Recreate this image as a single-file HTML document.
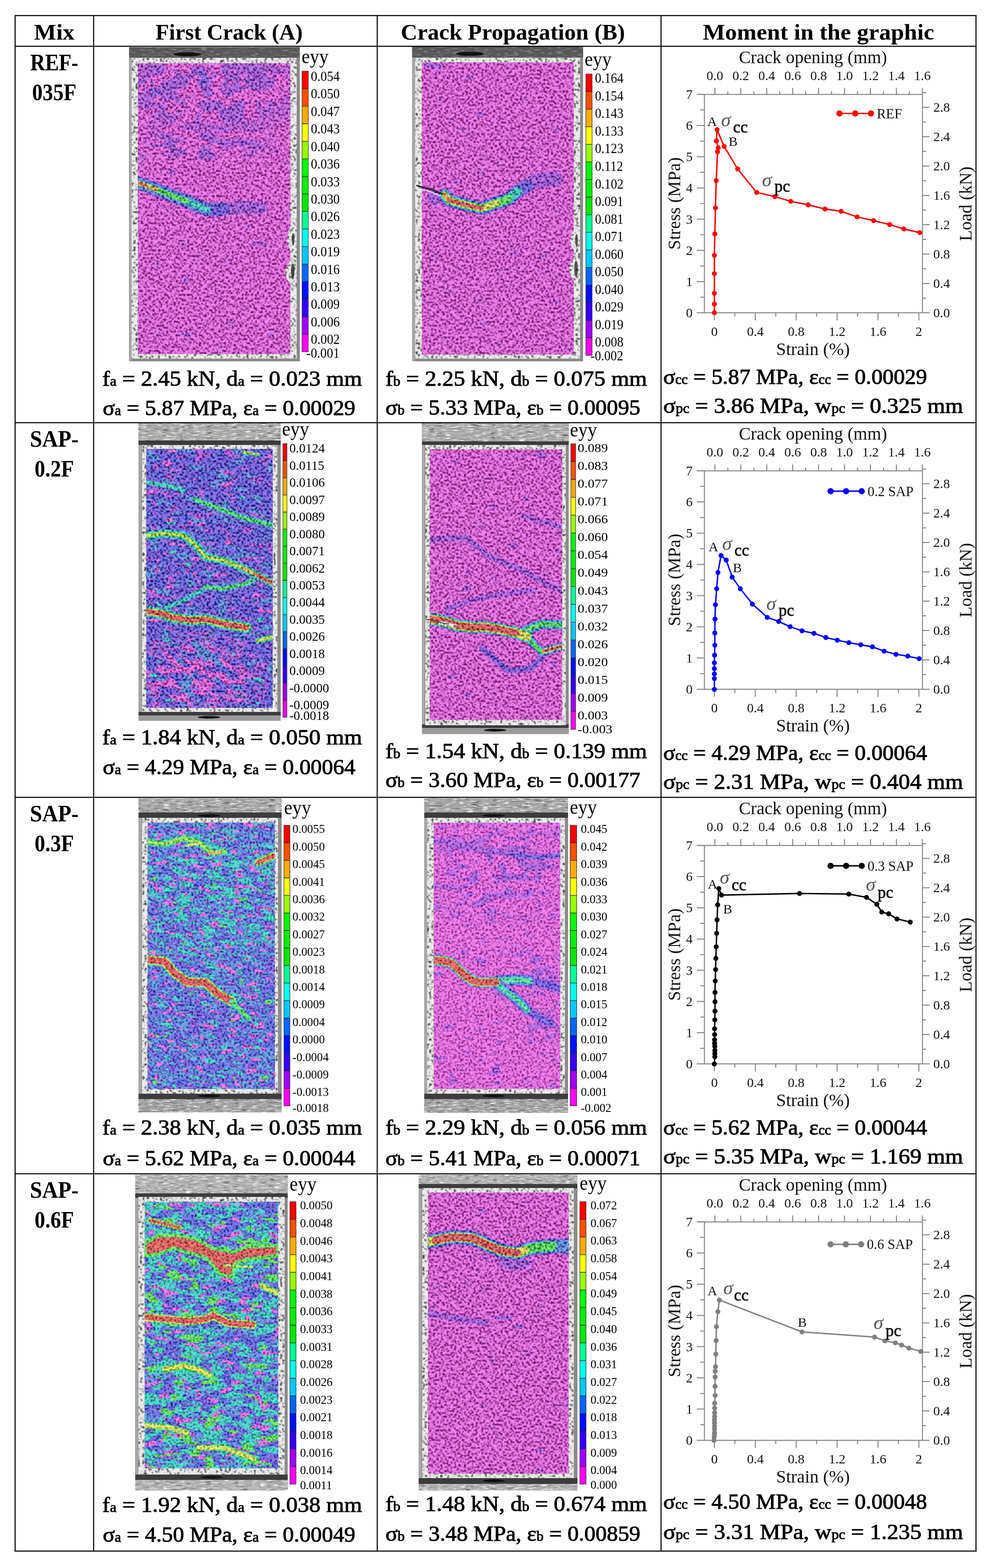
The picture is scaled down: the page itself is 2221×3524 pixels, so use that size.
<!DOCTYPE html>
<html><head><meta charset="utf-8"><title>DIC crack table</title>
<style>
html,body{margin:0;padding:0;background:#fff;}
body{width:2221px;height:3524px;overflow:hidden;}
svg{display:block;}
</style></head>
<body>
<svg xmlns="http://www.w3.org/2000/svg" width="2221" height="3524" viewBox="0 0 2221 3524" font-family="'Liberation Serif', 'Times New Roman', serif">
<defs>
<filter id="spk" x="0" y="0" width="1" height="1" color-interpolation-filters="sRGB">
<feTurbulence type="fractalNoise" baseFrequency="0.23" numOctaves="2" seed="7" result="n"/>
<feColorMatrix in="n" type="matrix" values="0 0 0 0 0  0 0 0 0 0  0 0 0 0 0  -6.0 0 0 0 3.090" result="m0"/>
<feGaussianBlur in="m0" stdDeviation="0.85" result="m"/>
<feComponentTransfer in="SourceGraphic" result="dk"><feFuncR type="linear" slope="1" intercept="-0.62"/><feFuncG type="linear" slope="1" intercept="-0.62"/><feFuncB type="linear" slope="1" intercept="-0.62"/></feComponentTransfer>
<feComposite in="dk" in2="m" operator="in" result="spots"/>
<feComposite in="spots" in2="SourceGraphic" operator="atop"/>
</filter>
<filter id="spk2" x="0" y="0" width="1" height="1" color-interpolation-filters="sRGB">
<feTurbulence type="fractalNoise" baseFrequency="0.26" numOctaves="2" seed="5" result="n"/>
<feColorMatrix in="n" type="matrix" values="0 0 0 0 0  0 0 0 0 0  0 0 0 0 0  -6.0 0 0 0 2.940" result="m0"/>
<feGaussianBlur in="m0" stdDeviation="1.0" result="m"/>
<feComponentTransfer in="SourceGraphic" result="dk"><feFuncR type="linear" slope="1" intercept="-0.58"/><feFuncG type="linear" slope="1" intercept="-0.58"/><feFuncB type="linear" slope="1" intercept="-0.58"/></feComponentTransfer>
<feComposite in="dk" in2="m" operator="in" result="spots"/>
<feComposite in="spots" in2="SourceGraphic" operator="atop"/>
</filter>
<filter id="spkw" x="0" y="0" width="1" height="1" color-interpolation-filters="sRGB">
<feTurbulence type="fractalNoise" baseFrequency="0.2" numOctaves="2" seed="3" result="n"/>
<feColorMatrix in="n" type="matrix" values="0 0 0 0 0  0 0 0 0 0  0 0 0 0 0  -8.0 0 0 0 3.440" result="m0"/>
<feGaussianBlur in="m0" stdDeviation="0.8" result="m"/>
<feComponentTransfer in="SourceGraphic" result="dk"><feFuncR type="linear" slope="1" intercept="-0.8"/><feFuncG type="linear" slope="1" intercept="-0.8"/><feFuncB type="linear" slope="1" intercept="-0.8"/></feComponentTransfer>
<feComposite in="dk" in2="m" operator="in" result="spots"/>
<feComposite in="spots" in2="SourceGraphic" operator="atop"/>
</filter>
<filter id="metal" x="0" y="0" width="1" height="1" color-interpolation-filters="sRGB">
<feTurbulence type="fractalNoise" baseFrequency="0.06 0.35" numOctaves="3" seed="9"/>
<feColorMatrix type="matrix" values="0 0 0 0 1  0 0 0 0 1  0 0 0 0 1  3.2 0 0 0 -1.65"/>
</filter>
<filter id="metald" x="0" y="0" width="1" height="1" color-interpolation-filters="sRGB">
<feTurbulence type="fractalNoise" baseFrequency="0.05 0.3" numOctaves="3" seed="19"/>
<feColorMatrix type="matrix" values="0 0 0 0 0  0 0 0 0 0  0 0 0 0 0  -2.6 0 0 0 1.1"/>
</filter>
<filter id="soft" color-interpolation-filters="sRGB"><feGaussianBlur stdDeviation="1.6"/></filter>
<filter id="soft2" color-interpolation-filters="sRGB"><feGaussianBlur stdDeviation="3"/></filter>
</defs>
<g id="dic"><rect x="290" y="106" width="384" height="706" fill="#8a8a8a"/><rect x="291" y="106" width="5" height="706" fill="#a8a8a8"/><rect x="290" y="106" width="384" height="24" fill="#565656"/><rect x="290" y="106" width="384" height="24" fill="#000" filter="url(#metal)" opacity="0.35"/><ellipse cx="421" cy="122" rx="31" ry="4.5" fill="#111"/><g filter="url(#spkw)"><rect x="296" y="130" width="371" height="676" fill="#ececec"/></g><clipPath id="cp310_142"><rect x="310" y="142" width="343" height="654"/></clipPath><g clip-path="url(#cp310_142)"><g filter="url(#spk)"><rect x="310" y="142" width="343" height="654" fill="#f887f4"/><filter id="pt1" filterUnits="userSpaceOnUse" x="311" y="142" width="342" height="158" color-interpolation-filters="sRGB"><feTurbulence type="fractalNoise" baseFrequency="0.02 0.03" numOctaves="3" seed="11"/><feColorMatrix type="matrix" values="0 0 0 0 0.784  0 0 0 0 0.490  0 0 0 0 0.961  30 0 0 0 -14.100"/></filter><radialGradient id="mk1g"><stop offset="0.55" stop-color="#fff"/><stop offset="1" stop-color="#000"/></radialGradient><mask id="mk1" maskUnits="userSpaceOnUse" x="311" y="142" width="342" height="158"><ellipse cx="470" cy="200" rx="260" ry="120" fill="url(#mk1g)"/></mask><g mask="url(#mk1)"><rect x="311" y="142" width="342" height="158" fill="#000" filter="url(#pt1)"/></g><filter id="pt2" filterUnits="userSpaceOnUse" x="311" y="142" width="189" height="88" color-interpolation-filters="sRGB"><feTurbulence type="fractalNoise" baseFrequency="0.025 0.04" numOctaves="3" seed="4"/><feColorMatrix type="matrix" values="0 0 0 0 0.584  0 0 0 0 0.490  0 0 0 0 0.961  30 0 0 0 -19.800"/></filter><radialGradient id="mk2g"><stop offset="0.55" stop-color="#fff"/><stop offset="1" stop-color="#000"/></radialGradient><mask id="mk2" maskUnits="userSpaceOnUse" x="311" y="142" width="189" height="88"><ellipse cx="390" cy="175" rx="110" ry="50" fill="url(#mk2g)"/></mask><g mask="url(#mk2)"><rect x="311" y="142" width="189" height="88" fill="#000" filter="url(#pt2)"/></g><filter id="pt3" filterUnits="userSpaceOnUse" x="320" y="260" width="300" height="100" color-interpolation-filters="sRGB"><feTurbulence type="fractalNoise" baseFrequency="0.02 0.045" numOctaves="3" seed="21"/><feColorMatrix type="matrix" values="0 0 0 0 0.784  0 0 0 0 0.490  0 0 0 0 0.961  30 0 0 0 -15.000"/></filter><radialGradient id="mk3g"><stop offset="0.55" stop-color="#fff"/><stop offset="1" stop-color="#000"/></radialGradient><mask id="mk3" maskUnits="userSpaceOnUse" x="320" y="260" width="300" height="100"><ellipse cx="470" cy="318" rx="170" ry="55" fill="url(#mk3g)"/></mask><g mask="url(#mk3)"><rect x="320" y="260" width="300" height="100" fill="#000" filter="url(#pt3)"/></g><filter id="pt4" filterUnits="userSpaceOnUse" x="311" y="142" width="342" height="654" color-interpolation-filters="sRGB"><feTurbulence type="fractalNoise" baseFrequency="0.03 0.05" numOctaves="3" seed="31"/><feColorMatrix type="matrix" values="0 0 0 0 0.784  0 0 0 0 0.490  0 0 0 0 0.961  30 0 0 0 -22.200"/></filter><rect x="311" y="142" width="342" height="654" fill="#000" filter="url(#pt4)"/><path d="M305.0 410.0 L330.0 418.0 L352.0 426.0 L390.0 441.0 L420.0 452.0 L442.0 462.0 L466.0 471.0 L500.0 470.0 L540.0 466.0 L585.0 467.0" stroke="#c87df5" stroke-width="30" fill="none" stroke-linecap="round" stroke-linejoin="round" opacity="1.0"/><path d="M305.0 410.0 L330.0 418.0 L352.0 426.0 L390.0 441.0 L420.0 452.0 L442.0 462.0 L466.0 471.0 L500.0 470.0" stroke="#957df5" stroke-width="30" fill="none" stroke-linecap="round" stroke-linejoin="round" opacity="1.0"/><path d="M305.0 410.0 L330.0 418.0 L352.0 426.0 L390.0 441.0 L420.0 452.0 L442.0 462.0 L466.0 471.0" stroke="#7dadf5" stroke-width="22" fill="none" stroke-linecap="round" stroke-linejoin="round" opacity="1.0"/><path d="M305.0 410.0 L330.0 418.0 L352.0 426.0 L390.0 441.0 L420.0 452.0 L442.0 462.0 L466.0 471.0" stroke="#5ae6dc" stroke-width="12" fill="none" stroke-linecap="round" stroke-linejoin="round" opacity="1.0"/><path d="M305.0 410.0 L330.0 418.0 L352.0 426.0 L390.0 441.0 L420.0 452.0" stroke="#7df57d" stroke-width="10" fill="none" stroke-linecap="round" stroke-linejoin="round" opacity="1.0"/><path d="M305.0 410.0 L330.0 418.0 L352.0 426.0" stroke="#f5f57d" stroke-width="10" fill="none" stroke-linecap="round" stroke-linejoin="round" opacity="1.0"/><path d="M305.0 410.0 L330.0 418.0 L352.0 426.0" stroke="#f5cd7d" stroke-width="8" fill="none" stroke-linecap="round" stroke-linejoin="round" opacity="1.0"/><path d="M305.0 410.0 L330.0 418.0" stroke="#f57d7d" stroke-width="5" fill="none" stroke-linecap="round" stroke-linejoin="round" opacity="1.0"/></g></g><g filter="url(#spkw)"><path d="M653.0 510.0 L648.0 520.0 L645.0 540.0 L650.0 556.0 L653.0 562.0 Z" fill="#ececec"/></g><ellipse cx="659" cy="538" rx="3" ry="14" fill="#2a2a2a" opacity="0.8"/><g filter="url(#spkw)"><path d="M653.0 585.0 L646.0 596.0 L641.0 612.0 L645.0 628.0 L653.0 636.0 Z" fill="#ececec"/></g><ellipse cx="658" cy="610" rx="4" ry="18" fill="#2a2a2a" opacity="0.8"/><rect x="679" y="160.00" width="14" height="39.71" fill="#ff0000"/><rect x="679" y="199.41" width="14" height="39.71" fill="#ff5000"/><rect x="679" y="238.82" width="14" height="39.71" fill="#ffaa00"/><rect x="679" y="278.24" width="14" height="39.71" fill="#ffff00"/><rect x="679" y="317.65" width="14" height="39.71" fill="#99ff00"/><rect x="679" y="357.06" width="14" height="39.71" fill="#00ff00"/><rect x="679" y="396.48" width="14" height="39.71" fill="#00f000"/><rect x="679" y="435.89" width="14" height="39.71" fill="#00e800"/><rect x="679" y="475.30" width="14" height="39.71" fill="#00ff99"/><rect x="679" y="514.71" width="14" height="39.71" fill="#00ffee"/><rect x="679" y="554.12" width="14" height="39.71" fill="#00c8ff"/><rect x="679" y="593.54" width="14" height="39.71" fill="#0066ff"/><rect x="679" y="632.95" width="14" height="39.71" fill="#0010ff"/><rect x="679" y="672.36" width="14" height="39.71" fill="#3300ff"/><rect x="679" y="711.77" width="14" height="39.71" fill="#a000ff"/><rect x="679" y="751.19" width="14" height="39.71" fill="#ff00ff"/><path d="M679 199.41 H693 M679 238.82 H693 M679 278.24 H693 M679 317.65 H693 M679 357.06 H693 M679 396.48 H693 M679 435.89 H693 M679 475.30 H693 M679 514.71 H693 M679 554.12 H693 M679 593.54 H693 M679 632.95 H693 M679 672.36 H693 M679 711.77 H693 M679 751.19 H693" stroke="#222" stroke-width="1.3"/><rect x="679" y="160" width="14" height="630.6" fill="none" stroke="#333" stroke-width="1.2"/><text transform="translate(698.8 182.0) scale(1 1.085)" font-size="28.9">0.054</text><text transform="translate(698.8 221.4) scale(1 1.085)" font-size="28.9">0.050</text><text transform="translate(698.8 260.8) scale(1 1.085)" font-size="28.9">0.047</text><text transform="translate(698.8 300.2) scale(1 1.085)" font-size="28.9">0.043</text><text transform="translate(698.8 339.6) scale(1 1.085)" font-size="28.9">0.040</text><text transform="translate(698.8 379.1) scale(1 1.085)" font-size="28.9">0.036</text><text transform="translate(698.8 418.5) scale(1 1.085)" font-size="28.9">0.033</text><text transform="translate(698.8 457.9) scale(1 1.085)" font-size="28.9">0.030</text><text transform="translate(698.8 497.3) scale(1 1.085)" font-size="28.9">0.026</text><text transform="translate(698.8 536.7) scale(1 1.085)" font-size="28.9">0.023</text><text transform="translate(698.8 576.1) scale(1 1.085)" font-size="28.9">0.019</text><text transform="translate(698.8 615.5) scale(1 1.085)" font-size="28.9">0.016</text><text transform="translate(698.8 655.0) scale(1 1.085)" font-size="28.9">0.013</text><text transform="translate(698.8 694.4) scale(1 1.085)" font-size="28.9">0.009</text><text transform="translate(698.8 733.8) scale(1 1.085)" font-size="28.9">0.006</text><text transform="translate(698.8 773.2) scale(1 1.085)" font-size="28.9">0.002</text><text transform="translate(688.8 804.0) scale(1 1.085)" font-size="28.9">-0.001</text><text transform="translate(677.9 142) scale(1 1.08)" font-size="42">eyy</text>
<rect x="926.5" y="105" width="384.20000000000005" height="707" fill="#8a8a8a"/><rect x="927.5" y="105" width="5" height="707" fill="#a8a8a8"/><rect x="926.5" y="105" width="384.20000000000005" height="24" fill="#565656"/><rect x="926.5" y="105" width="384.20000000000005" height="24" fill="#000" filter="url(#metal)" opacity="0.35"/><ellipse cx="1056" cy="121" rx="31" ry="4.5" fill="#111"/><g filter="url(#spkw)"><rect x="933" y="130" width="371" height="676" fill="#ececec"/></g><clipPath id="cp948_140"><rect x="948" y="140" width="342" height="657"/></clipPath><g clip-path="url(#cp948_140)"><g filter="url(#spk)"><rect x="948" y="140" width="342" height="657" fill="#f887f4"/><path d="M958.0 146.0 L990.0 150.0" stroke="#c87df5" stroke-width="10" fill="none" stroke-linecap="round" stroke-linejoin="round" opacity="1.0"/><filter id="pt5" filterUnits="userSpaceOnUse" x="948" y="140" width="342" height="657" color-interpolation-filters="sRGB"><feTurbulence type="fractalNoise" baseFrequency="0.03 0.06" numOctaves="3" seed="71"/><feColorMatrix type="matrix" values="0 0 0 0 0.784  0 0 0 0 0.490  0 0 0 0 0.961  30 0 0 0 -22.800"/></filter><rect x="948" y="140" width="342" height="657" fill="#000" filter="url(#pt5)"/><path d="M1192.0 398.0 L1215.0 390.0 L1245.0 393.0 L1265.0 410.0 L1240.0 420.0 L1200.0 424.0 Z" fill="#c87df5"/><path d="M975.0 445.0 L1000.0 438.0 L1008.2 449.8 L1045.9 460.3 L1083.6 468.7 L1117.1 456.1 L1142.3 447.7 L1163.2 431.0 L1184.1 418.4 L1205.1 405.8 L1230.0 402.0 L1250.0 404.0" stroke="#c87df5" stroke-width="32" fill="none" stroke-linecap="round" stroke-linejoin="round" opacity="1.0"/><path d="M1000.0 438.0 L1008.2 449.8 L1045.9 460.3 L1083.6 468.7 L1117.1 456.1 L1142.3 447.7 L1163.2 431.0 L1184.1 418.4" stroke="#957df5" stroke-width="28" fill="none" stroke-linecap="round" stroke-linejoin="round" opacity="1.0"/><path d="M1000.0 438.0 L1008.2 449.8 L1045.9 460.3 L1083.6 468.7 L1117.1 456.1 L1142.3 447.7 L1163.2 431.0" stroke="#7dadf5" stroke-width="24" fill="none" stroke-linecap="round" stroke-linejoin="round" opacity="1.0"/><path d="M1000.0 438.0 L1008.2 449.8 L1045.9 460.3 L1083.6 468.7 L1117.1 456.1 L1142.3 447.7 L1163.2 431.0" stroke="#5ae6dc" stroke-width="19" fill="none" stroke-linecap="round" stroke-linejoin="round" opacity="1.0"/><path d="M1000.0 438.0 L1008.2 449.8 L1045.9 460.3 L1083.6 468.7 L1117.1 456.1 L1142.3 447.7" stroke="#7df57d" stroke-width="16" fill="none" stroke-linecap="round" stroke-linejoin="round" opacity="1.0"/><path d="M1000.0 438.0 L1008.2 449.8 L1045.9 460.3 L1083.6 468.7 L1117.1 456.1" stroke="#f5f57d" stroke-width="13" fill="none" stroke-linecap="round" stroke-linejoin="round" opacity="1.0"/><path d="M1000.0 438.0 L1008.2 449.8 L1045.9 460.3 L1083.6 468.7" stroke="#f5cd7d" stroke-width="11" fill="none" stroke-linecap="round" stroke-linejoin="round" opacity="1.0"/><path d="M1008.2 449.8 L1045.9 460.3 L1083.6 468.7" stroke="#f57d7d" stroke-width="8" fill="none" stroke-linecap="round" stroke-linejoin="round" opacity="1.0"/></g></g><path d="M937.0 417.0 L955.0 422.0 L975.0 428.0 L995.0 436.0" stroke="#222" stroke-width="3" fill="none" stroke-linecap="round" stroke-linejoin="round" opacity="1.0"/><path d="M945.0 425.0 L965.0 430.0 L990.0 440.0" stroke="#eee" stroke-width="2" fill="none" stroke-linecap="round" stroke-linejoin="round" opacity="1.0"/><g filter="url(#spkw)"><path d="M1290.0 515.0 L1285.0 525.0 L1282.0 542.0 L1286.0 556.0 L1290.0 562.0 Z" fill="#ececec"/></g><ellipse cx="1296" cy="540" rx="3" ry="14" fill="#2a2a2a" opacity="0.8"/><g filter="url(#spkw)"><path d="M1290.0 580.0 L1283.0 592.0 L1279.0 606.0 L1283.0 620.0 L1290.0 628.0 Z" fill="#ececec"/></g><ellipse cx="1295" cy="604" rx="4" ry="18" fill="#2a2a2a" opacity="0.8"/><rect x="1317" y="166.30" width="14" height="39.83" fill="#ff0000"/><rect x="1317" y="205.83" width="14" height="39.83" fill="#ff5000"/><rect x="1317" y="245.36" width="14" height="39.83" fill="#ffaa00"/><rect x="1317" y="284.89" width="14" height="39.83" fill="#ffff00"/><rect x="1317" y="324.43" width="14" height="39.83" fill="#99ff00"/><rect x="1317" y="363.96" width="14" height="39.83" fill="#00ff00"/><rect x="1317" y="403.49" width="14" height="39.83" fill="#00f000"/><rect x="1317" y="443.02" width="14" height="39.83" fill="#00e800"/><rect x="1317" y="482.55" width="14" height="39.83" fill="#00ff99"/><rect x="1317" y="522.08" width="14" height="39.83" fill="#00ffee"/><rect x="1317" y="561.61" width="14" height="39.83" fill="#00c8ff"/><rect x="1317" y="601.14" width="14" height="39.83" fill="#0066ff"/><rect x="1317" y="640.67" width="14" height="39.83" fill="#0010ff"/><rect x="1317" y="680.21" width="14" height="39.83" fill="#3300ff"/><rect x="1317" y="719.74" width="14" height="39.83" fill="#a000ff"/><rect x="1317" y="759.27" width="14" height="39.83" fill="#ff00ff"/><path d="M1317 205.83 H1331 M1317 245.36 H1331 M1317 284.89 H1331 M1317 324.43 H1331 M1317 363.96 H1331 M1317 403.49 H1331 M1317 443.02 H1331 M1317 482.55 H1331 M1317 522.08 H1331 M1317 561.61 H1331 M1317 601.14 H1331 M1317 640.67 H1331 M1317 680.21 H1331 M1317 719.74 H1331 M1317 759.27 H1331" stroke="#222" stroke-width="1.3"/><rect x="1317" y="166.3" width="14" height="632.5" fill="none" stroke="#333" stroke-width="1.2"/><text transform="translate(1337.5 186.3) scale(1 1.1)" font-size="28.5">0.164</text><text transform="translate(1337.5 225.8) scale(1 1.1)" font-size="28.5">0.154</text><text transform="translate(1337.5 265.4) scale(1 1.1)" font-size="28.5">0.143</text><text transform="translate(1337.5 304.9) scale(1 1.1)" font-size="28.5">0.133</text><text transform="translate(1337.5 344.4) scale(1 1.1)" font-size="28.5">0.123</text><text transform="translate(1337.5 384.0) scale(1 1.1)" font-size="28.5">0.112</text><text transform="translate(1337.5 423.5) scale(1 1.1)" font-size="28.5">0.102</text><text transform="translate(1337.5 463.0) scale(1 1.1)" font-size="28.5">0.091</text><text transform="translate(1337.5 502.6) scale(1 1.1)" font-size="28.5">0.081</text><text transform="translate(1337.5 542.1) scale(1 1.1)" font-size="28.5">0.071</text><text transform="translate(1337.5 581.6) scale(1 1.1)" font-size="28.5">0.060</text><text transform="translate(1337.5 621.1) scale(1 1.1)" font-size="28.5">0.050</text><text transform="translate(1337.5 660.7) scale(1 1.1)" font-size="28.5">0.040</text><text transform="translate(1337.5 700.2) scale(1 1.1)" font-size="28.5">0.029</text><text transform="translate(1337.5 739.7) scale(1 1.1)" font-size="28.5">0.019</text><text transform="translate(1337.5 779.3) scale(1 1.1)" font-size="28.5">0.008</text><text transform="translate(1327.5 809.8) scale(1 1.1)" font-size="28.5">-0.002</text><text transform="translate(1314.2 148.3) scale(1 1.08)" font-size="42">eyy</text>
<rect x="311.5" y="951" width="319.5" height="669" fill="#8a8a8a"/><rect x="312.5" y="951" width="5" height="669" fill="#a8a8a8"/><rect x="311.5" y="951" width="319.5" height="39" fill="#a9a9a9"/><rect x="311.5" y="951" width="319.5" height="39" fill="#000" filter="url(#metal)" opacity="1.0"/><rect x="311.5" y="951" width="319.5" height="39" fill="#000" filter="url(#metald)" opacity="0.7"/><rect x="311.5" y="990" width="319.5" height="10" fill="#3c3c3c"/><rect x="311.5" y="1600" width="319.5" height="8" fill="#3c3c3c"/><rect x="311.5" y="1608" width="319.5" height="12" fill="#9c9c9c"/><ellipse cx="470" cy="1612" rx="25" ry="3" fill="#111"/><g filter="url(#spkw)"><rect x="319" y="1000" width="304.5" height="600" fill="#ececec"/></g><clipPath id="cp328_1008"><rect x="328.5" y="1008.6" width="284.5" height="582.4"/></clipPath><g clip-path="url(#cp328_1008)"><g filter="url(#spk)"><rect x="328.5" y="1008.6" width="284.5" height="582.4" fill="#957df5"/><filter id="pt6" filterUnits="userSpaceOnUse" x="328" y="1009" width="284" height="582" color-interpolation-filters="sRGB"><feTurbulence type="fractalNoise" baseFrequency="0.025 0.05" numOctaves="3" seed="5"/><feColorMatrix type="matrix" values="0 0 0 0 0.490  0 0 0 0 0.522  0 0 0 0 0.961  30 0 0 0 -16.800"/></filter><rect x="328" y="1009" width="284" height="582" fill="#000" filter="url(#pt6)"/><filter id="pt7" filterUnits="userSpaceOnUse" x="328" y="1009" width="284" height="582" color-interpolation-filters="sRGB"><feTurbulence type="fractalNoise" baseFrequency="0.025 0.05" numOctaves="3" seed="6"/><feColorMatrix type="matrix" values="0 0 0 0 0.490  0 0 0 0 0.678  0 0 0 0 0.961  30 0 0 0 -18.000"/></filter><rect x="328" y="1009" width="284" height="582" fill="#000" filter="url(#pt7)"/><filter id="pt8" filterUnits="userSpaceOnUse" x="328" y="1009" width="284" height="582" color-interpolation-filters="sRGB"><feTurbulence type="fractalNoise" baseFrequency="0.03 0.06" numOctaves="3" seed="7"/><feColorMatrix type="matrix" values="0 0 0 0 0.784  0 0 0 0 0.490  0 0 0 0 0.961  30 0 0 0 -18.900"/></filter><rect x="328" y="1009" width="284" height="582" fill="#000" filter="url(#pt8)"/><filter id="pt9" filterUnits="userSpaceOnUse" x="328" y="1009" width="284" height="582" color-interpolation-filters="sRGB"><feTurbulence type="fractalNoise" baseFrequency="0.03 0.06" numOctaves="3" seed="19"/><feColorMatrix type="matrix" values="0 0 0 0 0.973  0 0 0 0 0.529  0 0 0 0 0.957  30 0 0 0 -20.400"/></filter><rect x="328" y="1009" width="284" height="582" fill="#000" filter="url(#pt9)"/><filter id="pt10" filterUnits="userSpaceOnUse" x="293" y="1312" width="356" height="356" color-interpolation-filters="sRGB"><feTurbulence type="fractalNoise" baseFrequency="0.03 0.06" numOctaves="3" seed="9"/><feColorMatrix type="matrix" values="0 0 0 0 0.973  0 0 0 0 0.529  0 0 0 0 0.957  30 0 0 0 -15.600"/></filter><radialGradient id="mk10g"><stop offset="0.55" stop-color="#fff"/><stop offset="1" stop-color="#000"/></radialGradient><mask id="mk10" maskUnits="userSpaceOnUse" x="328.5" y="1390" width="284.5" height="201"><ellipse cx="440" cy="1515" rx="170" ry="100" fill="url(#mk10g)"/></mask><g mask="url(#mk10)"><g transform="rotate(25 471 1490)"><rect x="293" y="1312" width="356" height="356" fill="#000" filter="url(#pt10)"/></g></g><filter id="pt11" filterUnits="userSpaceOnUse" x="328" y="1009" width="284" height="582" color-interpolation-filters="sRGB"><feTurbulence type="fractalNoise" baseFrequency="0.03 0.065" numOctaves="3" seed="12"/><feColorMatrix type="matrix" values="0 0 0 0 0.353  0 0 0 0 0.902  0 0 0 0 0.863  30 0 0 0 -22.800"/></filter><rect x="328" y="1009" width="284" height="582" fill="#000" filter="url(#pt11)"/><path d="M328.0 1084.0 L378.6 1092.4 L412.0 1100.8" stroke="#5ae6dc" stroke-width="10" fill="none" stroke-linecap="round" stroke-linejoin="round" opacity="1.0"/><path d="M437.0 1121.8 L504.3 1146.9 L546.2 1163.7 L613.2 1180.4" stroke="#7dadf5" stroke-width="16" fill="none" stroke-linecap="round" stroke-linejoin="round" opacity="1.0"/><path d="M437.0 1121.8 L504.3 1146.9 L546.2 1163.7 L613.2 1180.4" stroke="#5ae6dc" stroke-width="11" fill="none" stroke-linecap="round" stroke-linejoin="round" opacity="1.0"/><path d="M437.0 1121.8 L504.3 1146.9 L546.2 1163.7 L613.2 1180.4" stroke="#7df57d" stroke-width="5" fill="none" stroke-linecap="round" stroke-linejoin="round" opacity="1.0"/><path d="M546.0 1016.0 L580.0 1022.0" stroke="#5ae6dc" stroke-width="9" fill="none" stroke-linecap="round" stroke-linejoin="round" opacity="1.0"/><path d="M546.0 1016.0 L580.0 1022.0" stroke="#f5f57d" stroke-width="5" fill="none" stroke-linecap="round" stroke-linejoin="round" opacity="1.0"/><path d="M462.4 1318.7 L504.3 1322.9 L558.7 1310.3 L575.5 1297.7" stroke="#7dadf5" stroke-width="15" fill="none" stroke-linecap="round" stroke-linejoin="round" opacity="1.0"/><path d="M462.4 1318.7 L504.3 1322.9 L558.7 1310.3 L575.5 1297.7" stroke="#5ae6dc" stroke-width="10" fill="none" stroke-linecap="round" stroke-linejoin="round" opacity="1.0"/><path d="M462.4 1318.7 L504.3 1322.9 L558.7 1310.3 L575.5 1297.7" stroke="#7df57d" stroke-width="5" fill="none" stroke-linecap="round" stroke-linejoin="round" opacity="1.0"/><path d="M370.0 1369.0 L410.0 1350.0 L454.0 1327.0" stroke="#7dadf5" stroke-width="13" fill="none" stroke-linecap="round" stroke-linejoin="round" opacity="1.0"/><path d="M370.0 1369.0 L410.0 1350.0 L454.0 1327.0" stroke="#5ae6dc" stroke-width="8" fill="none" stroke-linecap="round" stroke-linejoin="round" opacity="1.0"/><path d="M437.0 1444.0 L470.0 1470.0 L496.0 1494.6" stroke="#7dadf5" stroke-width="12" fill="none" stroke-linecap="round" stroke-linejoin="round" opacity="1.0"/><path d="M579.7 1440.0 L613.2 1431.8" stroke="#5ae6dc" stroke-width="13" fill="none" stroke-linecap="round" stroke-linejoin="round" opacity="1.0"/><path d="M579.7 1440.0 L613.2 1431.8" stroke="#7df57d" stroke-width="9" fill="none" stroke-linecap="round" stroke-linejoin="round" opacity="1.0"/><path d="M579.7 1440.0 L613.2 1431.8" stroke="#f5f57d" stroke-width="5" fill="none" stroke-linecap="round" stroke-linejoin="round" opacity="1.0"/><path d="M328.3 1203.5 L370.2 1199.3 L412.1 1203.5 L437.2 1222.3 L462.4 1251.6 L504.3 1260.0 L546.2 1276.8 L579.7 1293.5 L613.2 1310.3" stroke="#7dadf5" stroke-width="22" fill="none" stroke-linecap="round" stroke-linejoin="round" opacity="1.0"/><path d="M328.3 1203.5 L370.2 1199.3 L412.1 1203.5 L437.2 1222.3 L462.4 1251.6 L504.3 1260.0 L546.2 1276.8 L579.7 1293.5 L613.2 1310.3" stroke="#5ae6dc" stroke-width="17" fill="none" stroke-linecap="round" stroke-linejoin="round" opacity="1.0"/><path d="M328.3 1203.5 L370.2 1199.3 L412.1 1203.5 L437.2 1222.3 L462.4 1251.6 L504.3 1260.0 L546.2 1276.8 L579.7 1293.5 L613.2 1310.3" stroke="#7df57d" stroke-width="10" fill="none" stroke-linecap="round" stroke-linejoin="round" opacity="1.0"/><path d="M328.3 1203.5 L370.2 1199.3 L412.1 1203.5 L437.2 1222.3 L462.4 1251.6 L504.3 1260.0 L546.2 1276.8 L579.7 1293.5 L613.2 1310.3" stroke="#f5f57d" stroke-width="5" fill="none" stroke-linecap="round" stroke-linejoin="round" opacity="1.0"/><path d="M546.2 1276.8 L579.7 1293.5 L613.2 1310.3" stroke="#f5cd7d" stroke-width="8" fill="none" stroke-linecap="round" stroke-linejoin="round" opacity="1.0"/><path d="M579.7 1293.5 L613.2 1310.3" stroke="#f57d7d" stroke-width="9" fill="none" stroke-linecap="round" stroke-linejoin="round" opacity="1.0"/><path d="M322.0 1373.1 L366.0 1379.4 L387.0 1387.8 L428.8 1394.0 L462.4 1392.0 L504.3 1402.5 L554.5 1410.8" stroke="#7dadf5" stroke-width="28" fill="none" stroke-linecap="round" stroke-linejoin="round" opacity="1.0"/><path d="M322.0 1373.1 L366.0 1379.4 L387.0 1387.8 L428.8 1394.0 L462.4 1392.0 L504.3 1402.5 L554.5 1410.8" stroke="#5ae6dc" stroke-width="23" fill="none" stroke-linecap="round" stroke-linejoin="round" opacity="1.0"/><path d="M322.0 1373.1 L366.0 1379.4 L387.0 1387.8 L428.8 1394.0 L462.4 1392.0 L504.3 1402.5 L554.5 1410.8" stroke="#7df57d" stroke-width="17" fill="none" stroke-linecap="round" stroke-linejoin="round" opacity="1.0"/><path d="M322.0 1373.1 L366.0 1379.4 L387.0 1387.8 L428.8 1394.0 L462.4 1392.0 L504.3 1402.5 L554.5 1410.8" stroke="#f5f57d" stroke-width="14" fill="none" stroke-linecap="round" stroke-linejoin="round" opacity="1.0"/><path d="M322.0 1373.1 L366.0 1379.4 L387.0 1387.8 L428.8 1394.0 L462.4 1392.0 L504.3 1402.5 L554.5 1410.8" stroke="#f57d7d" stroke-width="11" fill="none" stroke-linecap="round" stroke-linejoin="round" opacity="1.0"/></g></g><rect x="636" y="997.00" width="9" height="38.74" fill="#ff0000"/><rect x="636" y="1035.44" width="9" height="38.74" fill="#ff5000"/><rect x="636" y="1073.88" width="9" height="38.74" fill="#ffaa00"/><rect x="636" y="1112.31" width="9" height="38.74" fill="#ffff00"/><rect x="636" y="1150.75" width="9" height="38.74" fill="#99ff00"/><rect x="636" y="1189.19" width="9" height="38.74" fill="#00ff00"/><rect x="636" y="1227.62" width="9" height="38.74" fill="#00f000"/><rect x="636" y="1266.06" width="9" height="38.74" fill="#00e800"/><rect x="636" y="1304.50" width="9" height="38.74" fill="#00ff99"/><rect x="636" y="1342.94" width="9" height="38.74" fill="#00ffee"/><rect x="636" y="1381.38" width="9" height="38.74" fill="#00c8ff"/><rect x="636" y="1419.81" width="9" height="38.74" fill="#0066ff"/><rect x="636" y="1458.25" width="9" height="38.74" fill="#0010ff"/><rect x="636" y="1496.69" width="9" height="38.74" fill="#3300ff"/><rect x="636" y="1535.12" width="9" height="38.74" fill="#a000ff"/><rect x="636" y="1573.56" width="9" height="38.74" fill="#ff00ff"/><path d="M636 1035.44 H645 M636 1073.88 H645 M636 1112.31 H645 M636 1150.75 H645 M636 1189.19 H645 M636 1227.62 H645 M636 1266.06 H645 M636 1304.50 H645 M636 1342.94 H645 M636 1381.38 H645 M636 1419.81 H645 M636 1458.25 H645 M636 1496.69 H645 M636 1535.12 H645 M636 1573.56 H645" stroke="#222" stroke-width="1.3"/><rect x="636" y="997" width="9" height="615" fill="none" stroke="#333" stroke-width="1.2"/><text transform="translate(650.4 1017.4) scale(1 1.02)" font-size="29">0.0124</text><text transform="translate(650.4 1055.8) scale(1 1.02)" font-size="29">0.0115</text><text transform="translate(650.4 1094.3) scale(1 1.02)" font-size="29">0.0106</text><text transform="translate(650.4 1132.7) scale(1 1.02)" font-size="29">0.0097</text><text transform="translate(650.4 1171.2) scale(1 1.02)" font-size="29">0.0089</text><text transform="translate(650.4 1209.6) scale(1 1.02)" font-size="29">0.0080</text><text transform="translate(650.4 1248.0) scale(1 1.02)" font-size="29">0.0071</text><text transform="translate(650.4 1286.5) scale(1 1.02)" font-size="29">0.0062</text><text transform="translate(650.4 1324.9) scale(1 1.02)" font-size="29">0.0053</text><text transform="translate(650.4 1363.3) scale(1 1.02)" font-size="29">0.0044</text><text transform="translate(650.4 1401.8) scale(1 1.02)" font-size="29">0.0035</text><text transform="translate(650.4 1440.2) scale(1 1.02)" font-size="29">0.0026</text><text transform="translate(650.4 1478.7) scale(1 1.02)" font-size="29">0.0018</text><text transform="translate(650.4 1517.1) scale(1 1.02)" font-size="29">0.0009</text><text transform="translate(650.4 1555.5) scale(1 1.02)" font-size="29">-0.0000</text><text transform="translate(650.4 1594.0) scale(1 1.02)" font-size="29">-0.0009</text><text transform="translate(650.4 1618.3) scale(1 1.02)" font-size="29">-0.0018</text><text transform="translate(634.0 979) scale(1 1.08)" font-size="42">eyy</text>
<rect x="948.7" y="951" width="329.70000000000005" height="698.5999999999999" fill="#8a8a8a"/><rect x="949.7" y="951" width="5" height="698.5999999999999" fill="#a8a8a8"/><rect x="948.7" y="951" width="329.70000000000005" height="41" fill="#a9a9a9"/><rect x="948.7" y="951" width="329.70000000000005" height="41" fill="#000" filter="url(#metal)" opacity="1.0"/><rect x="948.7" y="951" width="329.70000000000005" height="41" fill="#000" filter="url(#metald)" opacity="0.7"/><rect x="948.7" y="992" width="329.70000000000005" height="8" fill="#3c3c3c"/><rect x="948.7" y="1628" width="329.70000000000005" height="8" fill="#3c3c3c"/><rect x="948.7" y="1636" width="329.70000000000005" height="13.599999999999909" fill="#9c9c9c"/><ellipse cx="1113" cy="1641" rx="25" ry="3" fill="#111"/><g filter="url(#spkw)"><rect x="956" y="1000" width="316" height="630" fill="#ececec"/></g><clipPath id="cp966_1009"><rect x="966" y="1009.6" width="298" height="608.4"/></clipPath><g clip-path="url(#cp966_1009)"><g filter="url(#spk)"><rect x="966" y="1009.6" width="298" height="608.4" fill="#f887f4"/><filter id="pt12" filterUnits="userSpaceOnUse" x="966" y="1010" width="298" height="608" color-interpolation-filters="sRGB"><feTurbulence type="fractalNoise" baseFrequency="0.03 0.06" numOctaves="3" seed="61"/><feColorMatrix type="matrix" values="0 0 0 0 0.784  0 0 0 0 0.490  0 0 0 0 0.961  30 0 0 0 -22.500"/></filter><rect x="966" y="1010" width="298" height="608" fill="#000" filter="url(#pt12)"/><path d="M1205.0 1021.0 L1225.0 1024.0" stroke="#c87df5" stroke-width="8" fill="none" stroke-linecap="round" stroke-linejoin="round" opacity="1.0"/><path d="M966.3 1214.0 L1010.0 1210.0 L1050.0 1209.7 L1100.4 1251.6 L1163.2 1276.8 L1226.0 1310.3 L1263.7 1327.0" stroke="#c87df5" stroke-width="13" fill="none" stroke-linecap="round" stroke-linejoin="round" opacity="1.0"/><path d="M1008.2 1369.0 L1050.0 1352.0 L1100.4 1339.6 L1150.0 1332.0 L1200.9 1327.0" stroke="#c87df5" stroke-width="12" fill="none" stroke-linecap="round" stroke-linejoin="round" opacity="1.0"/><path d="M1175.8 1159.5 L1263.7 1184.6" stroke="#c87df5" stroke-width="11" fill="none" stroke-linecap="round" stroke-linejoin="round" opacity="1.0"/><path d="M1083.6 1457.0 L1142.3 1507.2 L1192.5 1503.0 L1226.0 1469.5" stroke="#c87df5" stroke-width="16" fill="none" stroke-linecap="round" stroke-linejoin="round" opacity="1.0"/><path d="M1083.6 1457.0 L1142.3 1507.2 L1192.5 1503.0 L1226.0 1469.5" stroke="#957df5" stroke-width="7" fill="none" stroke-linecap="round" stroke-linejoin="round" opacity="1.0"/><path d="M1011.0 1363.8 L1004.0 1378.0 L1010.0 1392.0" stroke="#c87df5" stroke-width="12" fill="none" stroke-linecap="round" stroke-linejoin="round" opacity="1.0"/><path d="M1184.0 1415.0 L1217.7 1402.5 L1263.7 1404.5" stroke="#c87df5" stroke-width="26" fill="none" stroke-linecap="round" stroke-linejoin="round" opacity="1.0"/><path d="M1184.0 1415.0 L1217.7 1402.5 L1263.7 1404.5" stroke="#7dadf5" stroke-width="20" fill="none" stroke-linecap="round" stroke-linejoin="round" opacity="1.0"/><path d="M1184.0 1415.0 L1217.7 1402.5 L1263.7 1404.5" stroke="#5ae6dc" stroke-width="14" fill="none" stroke-linecap="round" stroke-linejoin="round" opacity="1.0"/><path d="M1184.0 1415.0 L1217.7 1402.5 L1263.7 1404.5" stroke="#7df57d" stroke-width="8" fill="none" stroke-linecap="round" stroke-linejoin="round" opacity="1.0"/><path d="M1192.0 1440.0 L1217.7 1465.3 L1263.7 1452.7" stroke="#c87df5" stroke-width="22" fill="none" stroke-linecap="round" stroke-linejoin="round" opacity="1.0"/><path d="M1192.0 1440.0 L1217.7 1465.3 L1263.7 1452.7" stroke="#7dadf5" stroke-width="17" fill="none" stroke-linecap="round" stroke-linejoin="round" opacity="1.0"/><path d="M1192.0 1440.0 L1217.7 1465.3 L1263.7 1452.7" stroke="#5ae6dc" stroke-width="12" fill="none" stroke-linecap="round" stroke-linejoin="round" opacity="1.0"/><path d="M1192.0 1440.0 L1217.7 1465.3 L1263.7 1452.7" stroke="#7df57d" stroke-width="8" fill="none" stroke-linecap="round" stroke-linejoin="round" opacity="1.0"/><path d="M1222.0 1463.0 L1263.7 1452.7" stroke="#f5f57d" stroke-width="9" fill="none" stroke-linecap="round" stroke-linejoin="round" opacity="1.0"/><path d="M1222.0 1463.0 L1263.7 1452.7" stroke="#f57d7d" stroke-width="6" fill="none" stroke-linecap="round" stroke-linejoin="round" opacity="1.0"/><path d="M960.0 1391.0 L987.3 1394.0 L1008.2 1400.0 L1029.1 1406.0 L1060.0 1410.0 L1090.0 1409.0 L1121.3 1414.0 L1160.0 1422.0 L1185.0 1430.0" stroke="#7dadf5" stroke-width="28" fill="none" stroke-linecap="round" stroke-linejoin="round" opacity="1.0"/><path d="M960.0 1391.0 L987.3 1394.0 L1008.2 1400.0 L1029.1 1406.0 L1060.0 1410.0 L1090.0 1409.0 L1121.3 1414.0 L1160.0 1422.0 L1185.0 1430.0" stroke="#5ae6dc" stroke-width="24" fill="none" stroke-linecap="round" stroke-linejoin="round" opacity="1.0"/><path d="M960.0 1391.0 L987.3 1394.0 L1008.2 1400.0 L1029.1 1406.0 L1060.0 1410.0 L1090.0 1409.0 L1121.3 1414.0 L1160.0 1422.0 L1185.0 1430.0" stroke="#7df57d" stroke-width="21" fill="none" stroke-linecap="round" stroke-linejoin="round" opacity="1.0"/><path d="M960.0 1391.0 L987.3 1394.0 L1008.2 1400.0 L1029.1 1406.0 L1060.0 1410.0 L1090.0 1409.0 L1121.3 1414.0 L1160.0 1422.0 L1185.0 1430.0" stroke="#f5f57d" stroke-width="18" fill="none" stroke-linecap="round" stroke-linejoin="round" opacity="1.0"/><path d="M960.0 1391.0 L987.3 1394.0 L1008.2 1400.0 L1029.1 1406.0 L1060.0 1410.0 L1090.0 1409.0 L1121.3 1414.0 L1160.0 1422.0" stroke="#f57d7d" stroke-width="15" fill="none" stroke-linecap="round" stroke-linejoin="round" opacity="1.0"/></g></g><g filter="url(#spkw)"><path d="M986 1396 L1000 1397 L1012 1401 L1027 1404 L1027 1410 L1012 1409 L998 1406 L986 1403 Z" fill="#eeeeee"/></g><path d="M958.0 1392.0 L975.0 1394.0 L990.0 1399.0 L1005.0 1402.0" stroke="#444" stroke-width="2" fill="none" stroke-linecap="round" stroke-linejoin="round" opacity="1.0"/><rect x="1283.4" y="997.30" width="10.599999999999909" height="40.41" fill="#ff0000"/><rect x="1283.4" y="1037.41" width="10.599999999999909" height="40.41" fill="#ff5000"/><rect x="1283.4" y="1077.51" width="10.599999999999909" height="40.41" fill="#ffaa00"/><rect x="1283.4" y="1117.62" width="10.599999999999909" height="40.41" fill="#ffff00"/><rect x="1283.4" y="1157.72" width="10.599999999999909" height="40.41" fill="#99ff00"/><rect x="1283.4" y="1197.83" width="10.599999999999909" height="40.41" fill="#00ff00"/><rect x="1283.4" y="1237.94" width="10.599999999999909" height="40.41" fill="#00f000"/><rect x="1283.4" y="1278.04" width="10.599999999999909" height="40.41" fill="#00e800"/><rect x="1283.4" y="1318.15" width="10.599999999999909" height="40.41" fill="#00ff99"/><rect x="1283.4" y="1358.26" width="10.599999999999909" height="40.41" fill="#00ffee"/><rect x="1283.4" y="1398.36" width="10.599999999999909" height="40.41" fill="#00c8ff"/><rect x="1283.4" y="1438.47" width="10.599999999999909" height="40.41" fill="#0066ff"/><rect x="1283.4" y="1478.58" width="10.599999999999909" height="40.41" fill="#0010ff"/><rect x="1283.4" y="1518.68" width="10.599999999999909" height="40.41" fill="#3300ff"/><rect x="1283.4" y="1558.79" width="10.599999999999909" height="40.41" fill="#a000ff"/><rect x="1283.4" y="1598.89" width="10.599999999999909" height="40.41" fill="#ff00ff"/><path d="M1283.4 1037.41 H1294 M1283.4 1077.51 H1294 M1283.4 1117.62 H1294 M1283.4 1157.72 H1294 M1283.4 1197.83 H1294 M1283.4 1237.94 H1294 M1283.4 1278.04 H1294 M1283.4 1318.15 H1294 M1283.4 1358.26 H1294 M1283.4 1398.36 H1294 M1283.4 1438.47 H1294 M1283.4 1478.58 H1294 M1283.4 1518.68 H1294 M1283.4 1558.79 H1294 M1283.4 1598.89 H1294" stroke="#222" stroke-width="1.3"/><rect x="1283.4" y="997.3" width="10.599999999999909" height="641.7" fill="none" stroke="#333" stroke-width="1.2"/><text transform="translate(1298.6 1015.7) scale(1 0.93)" font-size="30.2">0.089</text><text transform="translate(1298.6 1055.8) scale(1 0.93)" font-size="30.2">0.083</text><text transform="translate(1298.6 1095.9) scale(1 0.93)" font-size="30.2">0.077</text><text transform="translate(1298.6 1136.0) scale(1 0.93)" font-size="30.2">0.071</text><text transform="translate(1298.6 1176.1) scale(1 0.93)" font-size="30.2">0.066</text><text transform="translate(1298.6 1216.2) scale(1 0.93)" font-size="30.2">0.060</text><text transform="translate(1298.6 1256.3) scale(1 0.93)" font-size="30.2">0.054</text><text transform="translate(1298.6 1296.4) scale(1 0.93)" font-size="30.2">0.049</text><text transform="translate(1298.6 1336.5) scale(1 0.93)" font-size="30.2">0.043</text><text transform="translate(1298.6 1376.7) scale(1 0.93)" font-size="30.2">0.037</text><text transform="translate(1298.6 1416.8) scale(1 0.93)" font-size="30.2">0.032</text><text transform="translate(1298.6 1456.9) scale(1 0.93)" font-size="30.2">0.026</text><text transform="translate(1298.6 1497.0) scale(1 0.93)" font-size="30.2">0.020</text><text transform="translate(1298.6 1537.1) scale(1 0.93)" font-size="30.2">0.015</text><text transform="translate(1298.6 1577.2) scale(1 0.93)" font-size="30.2">0.009</text><text transform="translate(1298.6 1617.3) scale(1 0.93)" font-size="30.2">0.003</text><text transform="translate(1298.6 1647.5) scale(1 0.93)" font-size="30.2">-0.003</text><text transform="translate(1281.3 981.4) scale(1 1.08)" font-size="42">eyy</text>
<rect x="311.5" y="1794" width="321.5" height="706" fill="#8a8a8a"/><rect x="312.5" y="1794" width="5" height="706" fill="#a8a8a8"/><rect x="311.5" y="1794" width="321.5" height="32" fill="#a4a4a4"/><rect x="311.5" y="1794" width="321.5" height="32" fill="#000" filter="url(#metal)" opacity="1.0"/><rect x="311.5" y="1794" width="321.5" height="32" fill="#000" filter="url(#metald)" opacity="0.7"/><rect x="311.5" y="1826" width="321.5" height="12" fill="#3c3c3c"/><rect x="311.5" y="2458" width="321.5" height="12" fill="#3c3c3c"/><rect x="311.5" y="2470" width="321.5" height="30" fill="#a0a0a0"/><rect x="311.5" y="2470" width="321.5" height="30" fill="#000" filter="url(#metal)" opacity="1.0"/><rect x="311.5" y="2470" width="321.5" height="30" fill="#000" filter="url(#metald)" opacity="0.7"/><ellipse cx="470" cy="1833" rx="25" ry="3" fill="#111"/><ellipse cx="470" cy="2463" rx="25" ry="3" fill="#111"/><g filter="url(#spkw)"><rect x="319" y="1838" width="306" height="620" fill="#ececec"/></g><clipPath id="cp331_1848"><rect x="331.6" y="1848.6" width="286.4" height="599.0"/></clipPath><g clip-path="url(#cp331_1848)"><g filter="url(#spk2)"><rect x="331.6" y="1848.6" width="286.4" height="599.0" fill="#7dadf5"/><filter id="pt13" filterUnits="userSpaceOnUse" x="139" y="1812" width="672" height="672" color-interpolation-filters="sRGB"><feTurbulence type="fractalNoise" baseFrequency="0.035 0.08" numOctaves="3" seed="14"/><feColorMatrix type="matrix" values="0 0 0 0 0.490  0 0 0 0 0.522  0 0 0 0 0.961  30 0 0 0 -15.900"/></filter><g transform="rotate(12 475 2148)"><rect x="139" y="1812" width="672" height="672" fill="#000" filter="url(#pt13)"/></g><filter id="pt14" filterUnits="userSpaceOnUse" x="139" y="1812" width="672" height="672" color-interpolation-filters="sRGB"><feTurbulence type="fractalNoise" baseFrequency="0.035 0.08" numOctaves="3" seed="16"/><feColorMatrix type="matrix" values="0 0 0 0 0.584  0 0 0 0 0.490  0 0 0 0 0.961  30 0 0 0 -17.100"/></filter><g transform="rotate(12 475 2148)"><rect x="139" y="1812" width="672" height="672" fill="#000" filter="url(#pt14)"/></g><filter id="pt15" filterUnits="userSpaceOnUse" x="139" y="1812" width="672" height="672" color-interpolation-filters="sRGB"><feTurbulence type="fractalNoise" baseFrequency="0.03 0.07" numOctaves="3" seed="17"/><feColorMatrix type="matrix" values="0 0 0 0 0.353  0 0 0 0 0.902  0 0 0 0 0.863  30 0 0 0 -19.800"/></filter><g transform="rotate(12 475 2148)"><rect x="139" y="1812" width="672" height="672" fill="#000" filter="url(#pt15)"/></g><filter id="pt16" filterUnits="userSpaceOnUse" x="244" y="1794" width="461" height="461" color-interpolation-filters="sRGB"><feTurbulence type="fractalNoise" baseFrequency="0.03 0.07" numOctaves="3" seed="27"/><feColorMatrix type="matrix" values="0 0 0 0 0.353  0 0 0 0 0.902  0 0 0 0 0.863  30 0 0 0 -16.500"/></filter><radialGradient id="mk16g"><stop offset="0.55" stop-color="#fff"/><stop offset="1" stop-color="#000"/></radialGradient><mask id="mk16" maskUnits="userSpaceOnUse" x="331.6" y="1848.6" width="286.4" height="351.4000000000001"><ellipse cx="475" cy="2010" rx="210" ry="190" fill="url(#mk16g)"/></mask><g mask="url(#mk16)"><g transform="rotate(12 475 2024)"><rect x="244" y="1794" width="461" height="461" fill="#000" filter="url(#pt16)"/></g></g><filter id="pt17" filterUnits="userSpaceOnUse" x="139" y="1812" width="672" height="672" color-interpolation-filters="sRGB"><feTurbulence type="fractalNoise" baseFrequency="0.035 0.08" numOctaves="3" seed="18"/><feColorMatrix type="matrix" values="0 0 0 0 0.973  0 0 0 0 0.529  0 0 0 0 0.957  30 0 0 0 -19.200"/></filter><g transform="rotate(12 475 2148)"><rect x="139" y="1812" width="672" height="672" fill="#000" filter="url(#pt17)"/></g><filter id="pt18" filterUnits="userSpaceOnUse" x="139" y="1812" width="672" height="672" color-interpolation-filters="sRGB"><feTurbulence type="fractalNoise" baseFrequency="0.03 0.07" numOctaves="3" seed="22"/><feColorMatrix type="matrix" values="0 0 0 0 0.490  0 0 0 0 0.961  0 0 0 0 0.490  30 0 0 0 -22.800"/></filter><g transform="rotate(12 475 2148)"><rect x="139" y="1812" width="672" height="672" fill="#000" filter="url(#pt18)"/></g><path d="M332.5 1892.5 L370.2 1896.7 L412.0 1884.2 L445.6 1892.5 L479.0 1917.7 L504.3 1913.5" stroke="#5ae6dc" stroke-width="16" fill="none" stroke-linecap="round" stroke-linejoin="round" opacity="1.0"/><path d="M332.5 1892.5 L370.2 1896.7 L412.0 1884.2 L445.6 1892.5 L479.0 1917.7 L504.3 1913.5" stroke="#7df57d" stroke-width="11" fill="none" stroke-linecap="round" stroke-linejoin="round" opacity="1.0"/><path d="M332.5 1892.5 L370.2 1896.7 L412.0 1884.2 L445.6 1892.5 L479.0 1917.7 L504.3 1913.5" stroke="#c5f57d" stroke-width="5" fill="none" stroke-linecap="round" stroke-linejoin="round" opacity="1.0"/><path d="M420.0 1900.0 L450.0 1895.0" stroke="#f5f57d" stroke-width="6" fill="none" stroke-linecap="round" stroke-linejoin="round" opacity="1.0"/><path d="M470.0 1917.0 L495.0 1915.0" stroke="#f5cd7d" stroke-width="7" fill="none" stroke-linecap="round" stroke-linejoin="round" opacity="1.0"/><path d="M579.7 1938.6 L617.4 1921.9" stroke="#5ae6dc" stroke-width="20" fill="none" stroke-linecap="round" stroke-linejoin="round" opacity="1.0"/><path d="M579.7 1938.6 L617.4 1921.9" stroke="#7df57d" stroke-width="16" fill="none" stroke-linecap="round" stroke-linejoin="round" opacity="1.0"/><path d="M579.7 1938.6 L617.4 1921.9" stroke="#f5f57d" stroke-width="12" fill="none" stroke-linecap="round" stroke-linejoin="round" opacity="1.0"/><path d="M579.7 1938.6 L617.4 1921.9" stroke="#f57d7d" stroke-width="9" fill="none" stroke-linecap="round" stroke-linejoin="round" opacity="1.0"/><path d="M326.0 2156.5 L370.2 2160.7 L391.1 2185.8 L420.5 2206.8 L462.4 2208.8 L487.5 2231.9 L521.0 2250.7" stroke="#5ae6dc" stroke-width="24" fill="none" stroke-linecap="round" stroke-linejoin="round" opacity="1.0"/><path d="M326.0 2156.5 L370.2 2160.7 L391.1 2185.8 L420.5 2206.8 L462.4 2208.8 L487.5 2231.9 L521.0 2250.7" stroke="#7df57d" stroke-width="21" fill="none" stroke-linecap="round" stroke-linejoin="round" opacity="1.0"/><path d="M326.0 2156.5 L370.2 2160.7 L391.1 2185.8 L420.5 2206.8 L462.4 2208.8 L487.5 2231.9 L521.0 2250.7" stroke="#f5f57d" stroke-width="18" fill="none" stroke-linecap="round" stroke-linejoin="round" opacity="1.0"/><path d="M326.0 2156.5 L370.2 2160.7 L391.1 2185.8 L420.5 2206.8 L462.4 2208.8 L487.5 2231.9 L521.0 2250.7" stroke="#f57d7d" stroke-width="15" fill="none" stroke-linecap="round" stroke-linejoin="round" opacity="1.0"/><path d="M521.0 2250.7 L540.0 2270.0 L560.0 2290.0" stroke="#5ae6dc" stroke-width="12" fill="none" stroke-linecap="round" stroke-linejoin="round" opacity="1.0"/><path d="M521.0 2250.7 L540.0 2270.0 L560.0 2290.0" stroke="#7df57d" stroke-width="7" fill="none" stroke-linecap="round" stroke-linejoin="round" opacity="1.0"/></g></g><rect x="638.3" y="1854.80" width="13.400000000000091" height="39.71" fill="#ff0000"/><rect x="638.3" y="1894.21" width="13.400000000000091" height="39.71" fill="#ff5000"/><rect x="638.3" y="1933.61" width="13.400000000000091" height="39.71" fill="#ffaa00"/><rect x="638.3" y="1973.02" width="13.400000000000091" height="39.71" fill="#ffff00"/><rect x="638.3" y="2012.42" width="13.400000000000091" height="39.71" fill="#99ff00"/><rect x="638.3" y="2051.83" width="13.400000000000091" height="39.71" fill="#00ff00"/><rect x="638.3" y="2091.24" width="13.400000000000091" height="39.71" fill="#00f000"/><rect x="638.3" y="2130.64" width="13.400000000000091" height="39.71" fill="#00e800"/><rect x="638.3" y="2170.05" width="13.400000000000091" height="39.71" fill="#00ff99"/><rect x="638.3" y="2209.46" width="13.400000000000091" height="39.71" fill="#00ffee"/><rect x="638.3" y="2248.86" width="13.400000000000091" height="39.71" fill="#00c8ff"/><rect x="638.3" y="2288.27" width="13.400000000000091" height="39.71" fill="#0066ff"/><rect x="638.3" y="2327.68" width="13.400000000000091" height="39.71" fill="#0010ff"/><rect x="638.3" y="2367.08" width="13.400000000000091" height="39.71" fill="#3300ff"/><rect x="638.3" y="2406.49" width="13.400000000000091" height="39.71" fill="#a000ff"/><rect x="638.3" y="2445.89" width="13.400000000000091" height="39.71" fill="#ff00ff"/><path d="M638.3 1894.21 H651.7 M638.3 1933.61 H651.7 M638.3 1973.02 H651.7 M638.3 2012.42 H651.7 M638.3 2051.83 H651.7 M638.3 2091.24 H651.7 M638.3 2130.64 H651.7 M638.3 2170.05 H651.7 M638.3 2209.46 H651.7 M638.3 2248.86 H651.7 M638.3 2288.27 H651.7 M638.3 2327.68 H651.7 M638.3 2367.08 H651.7 M638.3 2406.49 H651.7 M638.3 2445.89 H651.7" stroke="#222" stroke-width="1.3"/><rect x="638.3" y="1854.8" width="13.400000000000091" height="630.5000000000002" fill="none" stroke="#333" stroke-width="1.2"/><text transform="translate(657.6 1872.3) scale(1 1.03)" font-size="26.4">0.0055</text><text transform="translate(657.6 1911.7) scale(1 1.03)" font-size="26.4">0.0050</text><text transform="translate(657.6 1951.1) scale(1 1.03)" font-size="26.4">0.0045</text><text transform="translate(657.6 1990.5) scale(1 1.03)" font-size="26.4">0.0041</text><text transform="translate(657.6 2029.9) scale(1 1.03)" font-size="26.4">0.0036</text><text transform="translate(657.6 2069.3) scale(1 1.03)" font-size="26.4">0.0032</text><text transform="translate(657.6 2108.7) scale(1 1.03)" font-size="26.4">0.0027</text><text transform="translate(657.6 2148.1) scale(1 1.03)" font-size="26.4">0.0023</text><text transform="translate(657.6 2187.6) scale(1 1.03)" font-size="26.4">0.0018</text><text transform="translate(657.6 2227.0) scale(1 1.03)" font-size="26.4">0.0014</text><text transform="translate(657.6 2266.4) scale(1 1.03)" font-size="26.4">0.0009</text><text transform="translate(657.6 2305.8) scale(1 1.03)" font-size="26.4">0.0004</text><text transform="translate(657.6 2345.2) scale(1 1.03)" font-size="26.4">0.0000</text><text transform="translate(657.6 2384.6) scale(1 1.03)" font-size="26.4">-0.0004</text><text transform="translate(657.6 2424.0) scale(1 1.03)" font-size="26.4">-0.0009</text><text transform="translate(657.6 2463.4) scale(1 1.03)" font-size="26.4">-0.0013</text><text transform="translate(657.6 2499.0) scale(1 1.03)" font-size="26.4">-0.0018</text><text transform="translate(638.5 1830) scale(1 1.08)" font-size="42">eyy</text>
<rect x="953.7" y="1794" width="323.29999999999995" height="707" fill="#8a8a8a"/><rect x="954.7" y="1794" width="5" height="707" fill="#a8a8a8"/><rect x="953.7" y="1794" width="323.29999999999995" height="32" fill="#a4a4a4"/><rect x="953.7" y="1794" width="323.29999999999995" height="32" fill="#000" filter="url(#metal)" opacity="1.0"/><rect x="953.7" y="1794" width="323.29999999999995" height="32" fill="#000" filter="url(#metald)" opacity="0.7"/><rect x="953.7" y="1826" width="323.29999999999995" height="12" fill="#3c3c3c"/><rect x="953.7" y="2458" width="323.29999999999995" height="12" fill="#3c3c3c"/><rect x="953.7" y="2470" width="323.29999999999995" height="31" fill="#a0a0a0"/><rect x="953.7" y="2470" width="323.29999999999995" height="31" fill="#000" filter="url(#metal)" opacity="1.0"/><rect x="953.7" y="2470" width="323.29999999999995" height="31" fill="#000" filter="url(#metald)" opacity="0.7"/><ellipse cx="1110" cy="1833" rx="25" ry="3" fill="#111"/><ellipse cx="1110" cy="2463" rx="25" ry="3" fill="#111"/><g filter="url(#spkw)"><rect x="960" y="1838" width="310" height="620" fill="#ececec"/></g><clipPath id="cp974_1848"><rect x="974.7" y="1848.6" width="284.89999999999986" height="599.0"/></clipPath><g clip-path="url(#cp974_1848)"><g filter="url(#spk2)"><rect x="974.7" y="1848.6" width="284.89999999999986" height="599.0" fill="#f887f4"/><filter id="pt19" filterUnits="userSpaceOnUse" x="975" y="1849" width="285" height="231" color-interpolation-filters="sRGB"><feTurbulence type="fractalNoise" baseFrequency="0.025 0.05" numOctaves="3" seed="41"/><feColorMatrix type="matrix" values="0 0 0 0 0.784  0 0 0 0 0.490  0 0 0 0 0.961  30 0 0 0 -16.800"/></filter><radialGradient id="mk19g"><stop offset="0.55" stop-color="#fff"/><stop offset="1" stop-color="#000"/></radialGradient><mask id="mk19" maskUnits="userSpaceOnUse" x="974.7" y="1848.6" width="284.89999999999986" height="231.4000000000001"><ellipse cx="1117" cy="1950" rx="200" ry="150" fill="url(#mk19g)"/></mask><g mask="url(#mk19)"><rect x="975" y="1849" width="285" height="231" fill="#000" filter="url(#pt19)"/></g><filter id="pt20" filterUnits="userSpaceOnUse" x="975" y="1849" width="285" height="599" color-interpolation-filters="sRGB"><feTurbulence type="fractalNoise" baseFrequency="0.03 0.06" numOctaves="3" seed="42"/><feColorMatrix type="matrix" values="0 0 0 0 0.784  0 0 0 0 0.490  0 0 0 0 0.961  30 0 0 0 -20.700"/></filter><rect x="975" y="1849" width="285" height="599" fill="#000" filter="url(#pt20)"/><path d="M974.7 1888.4 L1058.5 1905.1 L1142.3 1917.7 L1226.0 1926.0 L1259.6 1921.9" stroke="#c87df5" stroke-width="16" fill="none" stroke-linecap="round" stroke-linejoin="round" opacity="1.0"/><path d="M1150.0 1920.0 L1200.0 1928.0 L1259.6 1921.9" stroke="#957df5" stroke-width="8" fill="none" stroke-linecap="round" stroke-linejoin="round" opacity="1.0"/><filter id="pt21" filterUnits="userSpaceOnUse" x="1140" y="2160" width="120" height="100" color-interpolation-filters="sRGB"><feTurbulence type="fractalNoise" baseFrequency="0.04 0.06" numOctaves="3" seed="43"/><feColorMatrix type="matrix" values="0 0 0 0 0.784  0 0 0 0 0.490  0 0 0 0 0.961  30 0 0 0 -14.100"/></filter><radialGradient id="mk21g"><stop offset="0.55" stop-color="#fff"/><stop offset="1" stop-color="#000"/></radialGradient><mask id="mk21" maskUnits="userSpaceOnUse" x="1140" y="2160" width="120" height="100"><ellipse cx="1210" cy="2205" rx="60" ry="42" fill="url(#mk21g)"/></mask><g mask="url(#mk21)"><rect x="1140" y="2160" width="120" height="100" fill="#000" filter="url(#pt21)"/></g><filter id="pt22" filterUnits="userSpaceOnUse" x="1170" y="2270" width="90" height="80" color-interpolation-filters="sRGB"><feTurbulence type="fractalNoise" baseFrequency="0.04 0.06" numOctaves="3" seed="44"/><feColorMatrix type="matrix" values="0 0 0 0 0.784  0 0 0 0 0.490  0 0 0 0 0.961  30 0 0 0 -14.100"/></filter><radialGradient id="mk22g"><stop offset="0.55" stop-color="#fff"/><stop offset="1" stop-color="#000"/></radialGradient><mask id="mk22" maskUnits="userSpaceOnUse" x="1170" y="2270" width="90" height="80"><ellipse cx="1222" cy="2310" rx="45" ry="40" fill="url(#mk22g)"/></mask><g mask="url(#mk22)"><rect x="1170" y="2270" width="90" height="80" fill="#000" filter="url(#pt22)"/></g><filter id="pt23" filterUnits="userSpaceOnUse" x="1140" y="2130" width="90" height="45" color-interpolation-filters="sRGB"><feTurbulence type="fractalNoise" baseFrequency="0.04 0.06" numOctaves="3" seed="45"/><feColorMatrix type="matrix" values="0 0 0 0 0.784  0 0 0 0 0.490  0 0 0 0 0.961  30 0 0 0 -15.000"/></filter><radialGradient id="mk23g"><stop offset="0.55" stop-color="#fff"/><stop offset="1" stop-color="#000"/></radialGradient><mask id="mk23" maskUnits="userSpaceOnUse" x="1140" y="2130" width="90" height="45"><ellipse cx="1185" cy="2152" rx="45" ry="20" fill="url(#mk23g)"/></mask><g mask="url(#mk23)"><rect x="1140" y="2130" width="90" height="45" fill="#000" filter="url(#pt23)"/></g><path d="M1190.0 2205.0 L1232.0 2213.0 L1258.0 2222.0" stroke="#c87df5" stroke-width="26" fill="none" stroke-linecap="round" stroke-linejoin="round" opacity="1.0"/><path d="M1190.0 2205.0 L1232.0 2213.0 L1258.0 2222.0" stroke="#957df5" stroke-width="14" fill="none" stroke-linecap="round" stroke-linejoin="round" opacity="1.0"/><path d="M1185.0 2270.0 L1210.0 2285.0 L1235.0 2300.0" stroke="#c87df5" stroke-width="22" fill="none" stroke-linecap="round" stroke-linejoin="round" opacity="1.0"/><path d="M1185.0 2270.0 L1210.0 2285.0 L1235.0 2300.0" stroke="#957df5" stroke-width="14" fill="none" stroke-linecap="round" stroke-linejoin="round" opacity="1.0"/><path d="M1115.0 2206.0 L1140.0 2203.0 L1167.0 2202.0 L1190.0 2205.0" stroke="#c87df5" stroke-width="28" fill="none" stroke-linecap="round" stroke-linejoin="round" opacity="1.0"/><path d="M1115.0 2206.0 L1140.0 2203.0 L1167.0 2202.0 L1190.0 2205.0" stroke="#957df5" stroke-width="24" fill="none" stroke-linecap="round" stroke-linejoin="round" opacity="1.0"/><path d="M1115.0 2206.0 L1140.0 2203.0 L1167.0 2202.0 L1190.0 2205.0" stroke="#7dadf5" stroke-width="19" fill="none" stroke-linecap="round" stroke-linejoin="round" opacity="1.0"/><path d="M1115.0 2206.0 L1140.0 2203.0 L1167.0 2202.0 L1190.0 2205.0" stroke="#5ae6dc" stroke-width="14" fill="none" stroke-linecap="round" stroke-linejoin="round" opacity="1.0"/><path d="M1115.0 2206.0 L1140.0 2203.0 L1167.0 2202.0 L1190.0 2205.0" stroke="#7df5c5" stroke-width="9" fill="none" stroke-linecap="round" stroke-linejoin="round" opacity="1.0"/><path d="M1115.0 2210.0 L1140.0 2230.0 L1167.0 2250.0 L1185.0 2270.0" stroke="#c87df5" stroke-width="26" fill="none" stroke-linecap="round" stroke-linejoin="round" opacity="1.0"/><path d="M1115.0 2210.0 L1140.0 2230.0 L1167.0 2250.0 L1185.0 2270.0" stroke="#957df5" stroke-width="22" fill="none" stroke-linecap="round" stroke-linejoin="round" opacity="1.0"/><path d="M1115.0 2210.0 L1140.0 2230.0 L1167.0 2250.0 L1185.0 2270.0" stroke="#7dadf5" stroke-width="17" fill="none" stroke-linecap="round" stroke-linejoin="round" opacity="1.0"/><path d="M1115.0 2210.0 L1140.0 2230.0 L1167.0 2250.0 L1185.0 2270.0" stroke="#5ae6dc" stroke-width="12" fill="none" stroke-linecap="round" stroke-linejoin="round" opacity="1.0"/><path d="M1115.0 2210.0 L1140.0 2230.0 L1167.0 2250.0 L1185.0 2270.0" stroke="#7df5c5" stroke-width="6" fill="none" stroke-linecap="round" stroke-linejoin="round" opacity="1.0"/><path d="M966.0 2160.0 L990.0 2158.0 L1015.0 2164.0 L1040.0 2188.0 L1062.0 2204.0 L1080.0 2208.0 L1115.0 2207.0" stroke="#7dadf5" stroke-width="24" fill="none" stroke-linecap="round" stroke-linejoin="round" opacity="1.0"/><path d="M966.0 2160.0 L990.0 2158.0 L1015.0 2164.0 L1040.0 2188.0 L1062.0 2204.0 L1080.0 2208.0 L1115.0 2207.0" stroke="#5ae6dc" stroke-width="21" fill="none" stroke-linecap="round" stroke-linejoin="round" opacity="1.0"/><path d="M966.0 2160.0 L990.0 2158.0 L1015.0 2164.0 L1040.0 2188.0 L1062.0 2204.0 L1080.0 2208.0 L1115.0 2207.0" stroke="#7df57d" stroke-width="19" fill="none" stroke-linecap="round" stroke-linejoin="round" opacity="1.0"/><path d="M966.0 2160.0 L990.0 2158.0 L1015.0 2164.0 L1040.0 2188.0 L1062.0 2204.0 L1080.0 2208.0 L1115.0 2207.0" stroke="#f5f57d" stroke-width="17" fill="none" stroke-linecap="round" stroke-linejoin="round" opacity="1.0"/><path d="M966.0 2160.0 L990.0 2158.0 L1015.0 2164.0 L1040.0 2188.0 L1062.0 2204.0 L1080.0 2208.0 L1115.0 2207.0" stroke="#f57d7d" stroke-width="15" fill="none" stroke-linecap="round" stroke-linejoin="round" opacity="1.0"/></g></g><rect x="1281.8" y="1854.80" width="14.600000000000136" height="39.71" fill="#ff0000"/><rect x="1281.8" y="1894.21" width="14.600000000000136" height="39.71" fill="#ff5000"/><rect x="1281.8" y="1933.61" width="14.600000000000136" height="39.71" fill="#ffaa00"/><rect x="1281.8" y="1973.02" width="14.600000000000136" height="39.71" fill="#ffff00"/><rect x="1281.8" y="2012.42" width="14.600000000000136" height="39.71" fill="#99ff00"/><rect x="1281.8" y="2051.83" width="14.600000000000136" height="39.71" fill="#00ff00"/><rect x="1281.8" y="2091.24" width="14.600000000000136" height="39.71" fill="#00f000"/><rect x="1281.8" y="2130.64" width="14.600000000000136" height="39.71" fill="#00e800"/><rect x="1281.8" y="2170.05" width="14.600000000000136" height="39.71" fill="#00ff99"/><rect x="1281.8" y="2209.46" width="14.600000000000136" height="39.71" fill="#00ffee"/><rect x="1281.8" y="2248.86" width="14.600000000000136" height="39.71" fill="#00c8ff"/><rect x="1281.8" y="2288.27" width="14.600000000000136" height="39.71" fill="#0066ff"/><rect x="1281.8" y="2327.68" width="14.600000000000136" height="39.71" fill="#0010ff"/><rect x="1281.8" y="2367.08" width="14.600000000000136" height="39.71" fill="#3300ff"/><rect x="1281.8" y="2406.49" width="14.600000000000136" height="39.71" fill="#a000ff"/><rect x="1281.8" y="2445.89" width="14.600000000000136" height="39.71" fill="#ff00ff"/><path d="M1281.8 1894.21 H1296.4 M1281.8 1933.61 H1296.4 M1281.8 1973.02 H1296.4 M1281.8 2012.42 H1296.4 M1281.8 2051.83 H1296.4 M1281.8 2091.24 H1296.4 M1281.8 2130.64 H1296.4 M1281.8 2170.05 H1296.4 M1281.8 2209.46 H1296.4 M1281.8 2248.86 H1296.4 M1281.8 2288.27 H1296.4 M1281.8 2327.68 H1296.4 M1281.8 2367.08 H1296.4 M1281.8 2406.49 H1296.4 M1281.8 2445.89 H1296.4" stroke="#222" stroke-width="1.3"/><rect x="1281.8" y="1854.8" width="14.600000000000136" height="630.5000000000002" fill="none" stroke="#333" stroke-width="1.2"/><text transform="translate(1305.7 1872.3) scale(1 1.03)" font-size="26.5">0.045</text><text transform="translate(1305.7 1911.7) scale(1 1.03)" font-size="26.5">0.042</text><text transform="translate(1305.7 1951.1) scale(1 1.03)" font-size="26.5">0.039</text><text transform="translate(1305.7 1990.5) scale(1 1.03)" font-size="26.5">0.036</text><text transform="translate(1305.7 2029.9) scale(1 1.03)" font-size="26.5">0.033</text><text transform="translate(1305.7 2069.3) scale(1 1.03)" font-size="26.5">0.030</text><text transform="translate(1305.7 2108.7) scale(1 1.03)" font-size="26.5">0.027</text><text transform="translate(1305.7 2148.1) scale(1 1.03)" font-size="26.5">0.024</text><text transform="translate(1305.7 2187.6) scale(1 1.03)" font-size="26.5">0.021</text><text transform="translate(1305.7 2227.0) scale(1 1.03)" font-size="26.5">0.018</text><text transform="translate(1305.7 2266.4) scale(1 1.03)" font-size="26.5">0.015</text><text transform="translate(1305.7 2305.8) scale(1 1.03)" font-size="26.5">0.012</text><text transform="translate(1305.7 2345.2) scale(1 1.03)" font-size="26.5">0.010</text><text transform="translate(1305.7 2384.6) scale(1 1.03)" font-size="26.5">0.007</text><text transform="translate(1305.7 2424.0) scale(1 1.03)" font-size="26.5">0.004</text><text transform="translate(1305.7 2463.4) scale(1 1.03)" font-size="26.5">0.001</text><text transform="translate(1305.7 2499.0) scale(1 1.03)" font-size="26.5">-0.002</text><text transform="translate(1281.1 1828.7) scale(1 1.08)" font-size="42">eyy</text>
<rect x="304" y="2640" width="342.70000000000005" height="710" fill="#8a8a8a"/><rect x="305" y="2640" width="5" height="710" fill="#a8a8a8"/><rect x="304" y="2640" width="342.70000000000005" height="42" fill="#b0b0b0"/><rect x="304" y="2640" width="342.70000000000005" height="42" fill="#000" filter="url(#metal)" opacity="1.0"/><rect x="304" y="2640" width="342.70000000000005" height="42" fill="#000" filter="url(#metald)" opacity="0.7"/><rect x="304" y="2682" width="342.70000000000005" height="10" fill="#3c3c3c"/><rect x="304" y="3314" width="342.70000000000005" height="12" fill="#3c3c3c"/><rect x="304" y="3326" width="342.70000000000005" height="24" fill="#b0b0b0"/><rect x="304" y="3326" width="342.70000000000005" height="24" fill="#000" filter="url(#metal)" opacity="1.0"/><rect x="304" y="3326" width="342.70000000000005" height="24" fill="#000" filter="url(#metald)" opacity="0.7"/><ellipse cx="475" cy="3320" rx="25" ry="3" fill="#111"/><g filter="url(#spkw)"><rect x="311" y="2690" width="329" height="624" fill="#ececec"/></g><clipPath id="cp325_2700"><rect x="325" y="2700.8" width="300.70000000000005" height="599.1999999999998"/></clipPath><g clip-path="url(#cp325_2700)"><g filter="url(#spk2)"><rect x="325" y="2700.8" width="300.70000000000005" height="599.1999999999998" fill="#7d85f5"/><filter id="pt24" filterUnits="userSpaceOnUse" x="325" y="2701" width="301" height="599" color-interpolation-filters="sRGB"><feTurbulence type="fractalNoise" baseFrequency="0.022 0.05" numOctaves="3" seed="51"/><feColorMatrix type="matrix" values="0 0 0 0 0.353  0 0 0 0 0.902  0 0 0 0 0.863  30 0 0 0 -13.800"/></filter><rect x="325" y="2701" width="301" height="599" fill="#000" filter="url(#pt24)"/><filter id="pt25" filterUnits="userSpaceOnUse" x="325" y="2701" width="301" height="599" color-interpolation-filters="sRGB"><feTurbulence type="fractalNoise" baseFrequency="0.022 0.05" numOctaves="3" seed="56"/><feColorMatrix type="matrix" values="0 0 0 0 0.490  0 0 0 0 0.678  0 0 0 0 0.961  30 0 0 0 -18.000"/></filter><rect x="325" y="2701" width="301" height="599" fill="#000" filter="url(#pt25)"/><filter id="pt26" filterUnits="userSpaceOnUse" x="325" y="2701" width="301" height="599" color-interpolation-filters="sRGB"><feTurbulence type="fractalNoise" baseFrequency="0.025 0.055" numOctaves="3" seed="55"/><feColorMatrix type="matrix" values="0 0 0 0 0.584  0 0 0 0 0.490  0 0 0 0 0.961  30 0 0 0 -18.900"/></filter><rect x="325" y="2701" width="301" height="599" fill="#000" filter="url(#pt26)"/><filter id="pt27" filterUnits="userSpaceOnUse" x="325" y="2701" width="301" height="599" color-interpolation-filters="sRGB"><feTurbulence type="fractalNoise" baseFrequency="0.028 0.06" numOctaves="3" seed="53"/><feColorMatrix type="matrix" values="0 0 0 0 0.973  0 0 0 0 0.529  0 0 0 0 0.957  30 0 0 0 -19.500"/></filter><rect x="325" y="2701" width="301" height="599" fill="#000" filter="url(#pt27)"/><filter id="pt28" filterUnits="userSpaceOnUse" x="325" y="2701" width="301" height="599" color-interpolation-filters="sRGB"><feTurbulence type="fractalNoise" baseFrequency="0.022 0.05" numOctaves="3" seed="54"/><feColorMatrix type="matrix" values="0 0 0 0 0.490  0 0 0 0 0.961  0 0 0 0 0.490  30 0 0 0 -19.800"/></filter><rect x="325" y="2701" width="301" height="599" fill="#000" filter="url(#pt28)"/><path d="M336.7 2742.7 L370.0 2750.0 L403.7 2759.5" stroke="#7df57d" stroke-width="13" fill="none" stroke-linecap="round" stroke-linejoin="round" opacity="1.0"/><path d="M336.7 2742.7 L370.0 2750.0 L403.7 2759.5" stroke="#f5f57d" stroke-width="9" fill="none" stroke-linecap="round" stroke-linejoin="round" opacity="1.0"/><path d="M336.7 2742.7 L370.0 2750.0 L403.7 2759.5" stroke="#f57d7d" stroke-width="6" fill="none" stroke-linecap="round" stroke-linejoin="round" opacity="1.0"/><g stroke="#7df57d" stroke-width="8" stroke-linejoin="round"><path d="M326.2 2793.0 L357.6 2776.3 L399.5 2776.3 L441.4 2784.6 L479.1 2805.6 L525.2 2814.0 L554.5 2801.4 L625.8 2799.3 L625.8 2822.3 L554.5 2830.7 L529.4 2839.1 L521.0 2870.5 L495.9 2864.2 L462.4 2826.5 L420.5 2814.0 L391.1 2805.6 L357.6 2818.1 L326.2 2822.3 Z" fill="#f57d7d" stroke="#7df57d"/></g><path d="M505.0 2843.0 L535.0 2846.0 L567.0 2847.5" stroke="#7df57d" stroke-width="6" fill="none" stroke-linecap="round" stroke-linejoin="round" opacity="1.0"/><path d="M505.0 2843.0 L535.0 2846.0 L567.0 2847.5" stroke="#f5f57d" stroke-width="3" fill="none" stroke-linecap="round" stroke-linejoin="round" opacity="1.0"/><path d="M326.2 2960.6 L378.6 2964.8 L420.5 2969.0 L462.4 2964.8 L479.1 2956.4 L512.6 2973.1 L567.1 2977.3" stroke="#7df57d" stroke-width="20" fill="none" stroke-linecap="round" stroke-linejoin="round" opacity="1.0"/><path d="M326.2 2960.6 L378.6 2964.8 L420.5 2969.0 L462.4 2964.8 L479.1 2956.4 L512.6 2973.1 L567.1 2977.3" stroke="#f5f57d" stroke-width="16" fill="none" stroke-linecap="round" stroke-linejoin="round" opacity="1.0"/><path d="M326.2 2960.6 L378.6 2964.8 L420.5 2969.0 L462.4 2964.8 L479.1 2956.4 L512.6 2973.1 L567.1 2977.3" stroke="#f57d7d" stroke-width="12" fill="none" stroke-linecap="round" stroke-linejoin="round" opacity="1.0"/><path d="M370.2 3077.9 L412.1 3069.5 L445.6 3077.9 L470.7 3090.4" stroke="#7df57d" stroke-width="16" fill="none" stroke-linecap="round" stroke-linejoin="round" opacity="1.0"/><path d="M370.2 3077.9 L412.1 3069.5 L445.6 3077.9 L470.7 3090.4" stroke="#f5f57d" stroke-width="9" fill="none" stroke-linecap="round" stroke-linejoin="round" opacity="1.0"/><path d="M326.2 3203.6 L378.6 3207.8 L420.5 3220.3" stroke="#7df57d" stroke-width="14" fill="none" stroke-linecap="round" stroke-linejoin="round" opacity="1.0"/><path d="M326.2 3203.6 L378.6 3207.8 L420.5 3220.3" stroke="#f5f57d" stroke-width="8" fill="none" stroke-linecap="round" stroke-linejoin="round" opacity="1.0"/><path d="M445.6 3253.8 L504.3 3253.8 L571.3 3279.0" stroke="#7df57d" stroke-width="14" fill="none" stroke-linecap="round" stroke-linejoin="round" opacity="1.0"/><path d="M445.6 3253.8 L504.3 3253.8 L571.3 3279.0" stroke="#f5f57d" stroke-width="8" fill="none" stroke-linecap="round" stroke-linejoin="round" opacity="1.0"/><path d="M588.0 2889.0 L621.6 2906.0" stroke="#7df57d" stroke-width="14" fill="none" stroke-linecap="round" stroke-linejoin="round" opacity="1.0"/><path d="M588.0 2889.0 L621.6 2906.0" stroke="#f5f57d" stroke-width="8" fill="none" stroke-linecap="round" stroke-linejoin="round" opacity="1.0"/></g></g><rect x="651.7" y="2700.80" width="13.799999999999955" height="39.97" fill="#ff0000"/><rect x="651.7" y="2740.47" width="13.799999999999955" height="39.97" fill="#ff5000"/><rect x="651.7" y="2780.14" width="13.799999999999955" height="39.97" fill="#ffaa00"/><rect x="651.7" y="2819.81" width="13.799999999999955" height="39.97" fill="#ffff00"/><rect x="651.7" y="2859.48" width="13.799999999999955" height="39.97" fill="#99ff00"/><rect x="651.7" y="2899.14" width="13.799999999999955" height="39.97" fill="#00ff00"/><rect x="651.7" y="2938.81" width="13.799999999999955" height="39.97" fill="#00f000"/><rect x="651.7" y="2978.48" width="13.799999999999955" height="39.97" fill="#00e800"/><rect x="651.7" y="3018.15" width="13.799999999999955" height="39.97" fill="#00ff99"/><rect x="651.7" y="3057.82" width="13.799999999999955" height="39.97" fill="#00ffee"/><rect x="651.7" y="3097.49" width="13.799999999999955" height="39.97" fill="#00c8ff"/><rect x="651.7" y="3137.16" width="13.799999999999955" height="39.97" fill="#0066ff"/><rect x="651.7" y="3176.82" width="13.799999999999955" height="39.97" fill="#0010ff"/><rect x="651.7" y="3216.49" width="13.799999999999955" height="39.97" fill="#3300ff"/><rect x="651.7" y="3256.16" width="13.799999999999955" height="39.97" fill="#a000ff"/><rect x="651.7" y="3295.83" width="13.799999999999955" height="39.97" fill="#ff00ff"/><path d="M651.7 2740.47 H665.5 M651.7 2780.14 H665.5 M651.7 2819.81 H665.5 M651.7 2859.48 H665.5 M651.7 2899.14 H665.5 M651.7 2938.81 H665.5 M651.7 2978.48 H665.5 M651.7 3018.15 H665.5 M651.7 3057.82 H665.5 M651.7 3097.49 H665.5 M651.7 3137.16 H665.5 M651.7 3176.82 H665.5 M651.7 3216.49 H665.5 M651.7 3256.16 H665.5 M651.7 3295.83 H665.5" stroke="#222" stroke-width="1.3"/><rect x="651.7" y="2700.8" width="13.799999999999955" height="634.6999999999998" fill="none" stroke="#333" stroke-width="1.2"/><text transform="translate(674.4 2718.3) scale(1 1.03)" font-size="26.6">0.0050</text><text transform="translate(674.4 2758.0) scale(1 1.03)" font-size="26.6">0.0048</text><text transform="translate(674.4 2797.6) scale(1 1.03)" font-size="26.6">0.0046</text><text transform="translate(674.4 2837.3) scale(1 1.03)" font-size="26.6">0.0043</text><text transform="translate(674.4 2877.0) scale(1 1.03)" font-size="26.6">0.0041</text><text transform="translate(674.4 2916.6) scale(1 1.03)" font-size="26.6">0.0038</text><text transform="translate(674.4 2956.3) scale(1 1.03)" font-size="26.6">0.0036</text><text transform="translate(674.4 2996.0) scale(1 1.03)" font-size="26.6">0.0033</text><text transform="translate(674.4 3035.7) scale(1 1.03)" font-size="26.6">0.0031</text><text transform="translate(674.4 3075.3) scale(1 1.03)" font-size="26.6">0.0028</text><text transform="translate(674.4 3115.0) scale(1 1.03)" font-size="26.6">0.0026</text><text transform="translate(674.4 3154.7) scale(1 1.03)" font-size="26.6">0.0023</text><text transform="translate(674.4 3194.3) scale(1 1.03)" font-size="26.6">0.0021</text><text transform="translate(674.4 3234.0) scale(1 1.03)" font-size="26.6">0.0018</text><text transform="translate(674.4 3273.7) scale(1 1.03)" font-size="26.6">0.0016</text><text transform="translate(674.4 3313.3) scale(1 1.03)" font-size="26.6">0.0014</text><text transform="translate(674.4 3347.3) scale(1 1.03)" font-size="26.6">0.0011</text><text transform="translate(651.1 2676) scale(1 1.08)" font-size="42">eyy</text>
<rect x="941.2" y="2640" width="356.79999999999995" height="710" fill="#8a8a8a"/><rect x="942.2" y="2640" width="5" height="710" fill="#a8a8a8"/><rect x="941.2" y="2640" width="356.79999999999995" height="21" fill="#b0b0b0"/><rect x="941.2" y="2640" width="356.79999999999995" height="21" fill="#000" filter="url(#metal)" opacity="1.0"/><rect x="941.2" y="2640" width="356.79999999999995" height="21" fill="#000" filter="url(#metald)" opacity="0.7"/><rect x="941.2" y="2661" width="356.79999999999995" height="10" fill="#3c3c3c"/><rect x="941.2" y="3322" width="356.79999999999995" height="13" fill="#3c3c3c"/><rect x="941.2" y="3335" width="356.79999999999995" height="15" fill="#b0b0b0"/><rect x="941.2" y="3335" width="356.79999999999995" height="15" fill="#000" filter="url(#metal)" opacity="1.0"/><rect x="941.2" y="3335" width="356.79999999999995" height="15" fill="#000" filter="url(#metald)" opacity="0.7"/><ellipse cx="1110" cy="3328" rx="25" ry="3" fill="#111"/><g filter="url(#spkw)"><rect x="949" y="2670" width="341" height="652" fill="#ececec"/></g><clipPath id="cp962_2680"><rect x="962" y="2680" width="316.4000000000001" height="632.5"/></clipPath><g clip-path="url(#cp962_2680)"><g filter="url(#spk)"><rect x="962" y="2680" width="316.4000000000001" height="632.5" fill="#f887f4"/><path d="M1107.0 2812.0 L1150.0 2820.0 L1203.0 2838.0 L1180.0 2852.0 L1150.0 2857.0 L1125.0 2845.0 Z" fill="#c87df5"/><filter id="pt29" filterUnits="userSpaceOnUse" x="962" y="2680" width="316" height="632" color-interpolation-filters="sRGB"><feTurbulence type="fractalNoise" baseFrequency="0.03 0.06" numOctaves="3" seed="62"/><feColorMatrix type="matrix" values="0 0 0 0 0.784  0 0 0 0 0.490  0 0 0 0 0.961  30 0 0 0 -23.100"/></filter><rect x="962" y="2680" width="316" height="632" fill="#000" filter="url(#pt29)"/><path d="M966.3 2952.0 L1037.5 2964.8 L1092.0 2973.1" stroke="#c87df5" stroke-width="14" fill="none" stroke-linecap="round" stroke-linejoin="round" opacity="1.0"/><path d="M1117.0 2960.6 L1146.4 2962.7" stroke="#c87df5" stroke-width="10" fill="none" stroke-linecap="round" stroke-linejoin="round" opacity="1.0"/><path d="M1160.0 2981.0 L1172.0 2982.0" stroke="#c87df5" stroke-width="9" fill="none" stroke-linecap="round" stroke-linejoin="round" opacity="1.0"/><path d="M966.0 2790.0 L979.0 2788.0 L1017.0 2780.0 L1062.0 2782.5 L1095.6 2798.0 L1129.0 2811.7 L1162.8 2816.0 L1196.0 2805.0 L1241.0 2800.5 L1280.0 2800.5" stroke="#c87df5" stroke-width="36" fill="none" stroke-linecap="round" stroke-linejoin="round" opacity="1.0"/><path d="M966.0 2790.0 L979.0 2788.0 L1017.0 2780.0 L1062.0 2782.5 L1095.6 2798.0 L1129.0 2811.7 L1162.8 2816.0 L1196.0 2805.0 L1241.0 2800.5 L1280.0 2800.5" stroke="#957df5" stroke-width="31" fill="none" stroke-linecap="round" stroke-linejoin="round" opacity="1.0"/><path d="M966.0 2790.0 L979.0 2788.0 L1017.0 2780.0 L1062.0 2782.5 L1095.6 2798.0 L1129.0 2811.7 L1162.8 2816.0 L1196.0 2805.0 L1241.0 2800.5 L1280.0 2800.5" stroke="#7dadf5" stroke-width="27" fill="none" stroke-linecap="round" stroke-linejoin="round" opacity="1.0"/><path d="M966.0 2790.0 L979.0 2788.0 L1017.0 2780.0 L1062.0 2782.5 L1095.6 2798.0 L1129.0 2811.7 L1162.8 2816.0 L1196.0 2805.0 L1241.0 2800.5" stroke="#5ae6dc" stroke-width="23" fill="none" stroke-linecap="round" stroke-linejoin="round" opacity="1.0"/><path d="M966.0 2790.0 L979.0 2788.0 L1017.0 2780.0 L1062.0 2782.5 L1095.6 2798.0 L1129.0 2811.7 L1162.8 2816.0 L1196.0 2805.0 L1241.0 2800.5" stroke="#7df57d" stroke-width="19" fill="none" stroke-linecap="round" stroke-linejoin="round" opacity="1.0"/><path d="M966.0 2790.0 L979.0 2788.0 L1017.0 2780.0 L1062.0 2782.5 L1095.6 2798.0 L1129.0 2811.7 L1162.8 2816.0 L1180.0 2811.0" stroke="#f5f57d" stroke-width="19" fill="none" stroke-linecap="round" stroke-linejoin="round" opacity="1.0"/><path d="M979.0 2788.0 L1017.0 2780.0 L1062.0 2782.5 L1095.6 2798.0 L1129.0 2811.7 L1162.8 2816.0" stroke="#f57d7d" stroke-width="16" fill="none" stroke-linecap="round" stroke-linejoin="round" opacity="1.0"/></g></g><rect x="1303.5" y="2700.80" width="13.900000000000091" height="39.97" fill="#ff0000"/><rect x="1303.5" y="2740.47" width="13.900000000000091" height="39.97" fill="#ff5000"/><rect x="1303.5" y="2780.14" width="13.900000000000091" height="39.97" fill="#ffaa00"/><rect x="1303.5" y="2819.81" width="13.900000000000091" height="39.97" fill="#ffff00"/><rect x="1303.5" y="2859.48" width="13.900000000000091" height="39.97" fill="#99ff00"/><rect x="1303.5" y="2899.14" width="13.900000000000091" height="39.97" fill="#00ff00"/><rect x="1303.5" y="2938.81" width="13.900000000000091" height="39.97" fill="#00f000"/><rect x="1303.5" y="2978.48" width="13.900000000000091" height="39.97" fill="#00e800"/><rect x="1303.5" y="3018.15" width="13.900000000000091" height="39.97" fill="#00ff99"/><rect x="1303.5" y="3057.82" width="13.900000000000091" height="39.97" fill="#00ffee"/><rect x="1303.5" y="3097.49" width="13.900000000000091" height="39.97" fill="#00c8ff"/><rect x="1303.5" y="3137.16" width="13.900000000000091" height="39.97" fill="#0066ff"/><rect x="1303.5" y="3176.82" width="13.900000000000091" height="39.97" fill="#0010ff"/><rect x="1303.5" y="3216.49" width="13.900000000000091" height="39.97" fill="#3300ff"/><rect x="1303.5" y="3256.16" width="13.900000000000091" height="39.97" fill="#a000ff"/><rect x="1303.5" y="3295.83" width="13.900000000000091" height="39.97" fill="#ff00ff"/><path d="M1303.5 2740.47 H1317.4 M1303.5 2780.14 H1317.4 M1303.5 2819.81 H1317.4 M1303.5 2859.48 H1317.4 M1303.5 2899.14 H1317.4 M1303.5 2938.81 H1317.4 M1303.5 2978.48 H1317.4 M1303.5 3018.15 H1317.4 M1303.5 3057.82 H1317.4 M1303.5 3097.49 H1317.4 M1303.5 3137.16 H1317.4 M1303.5 3176.82 H1317.4 M1303.5 3216.49 H1317.4 M1303.5 3256.16 H1317.4 M1303.5 3295.83 H1317.4" stroke="#222" stroke-width="1.3"/><rect x="1303.5" y="2700.8" width="13.900000000000091" height="634.6999999999998" fill="none" stroke="#333" stroke-width="1.2"/><text transform="translate(1327.4 2718.1) scale(1 1.03)" font-size="26.5">0.072</text><text transform="translate(1327.4 2757.8) scale(1 1.03)" font-size="26.5">0.067</text><text transform="translate(1327.4 2797.4) scale(1 1.03)" font-size="26.5">0.063</text><text transform="translate(1327.4 2837.1) scale(1 1.03)" font-size="26.5">0.058</text><text transform="translate(1327.4 2876.8) scale(1 1.03)" font-size="26.5">0.054</text><text transform="translate(1327.4 2916.4) scale(1 1.03)" font-size="26.5">0.049</text><text transform="translate(1327.4 2956.1) scale(1 1.03)" font-size="26.5">0.045</text><text transform="translate(1327.4 2995.8) scale(1 1.03)" font-size="26.5">0.040</text><text transform="translate(1327.4 3035.5) scale(1 1.03)" font-size="26.5">0.036</text><text transform="translate(1327.4 3075.1) scale(1 1.03)" font-size="26.5">0.031</text><text transform="translate(1327.4 3114.8) scale(1 1.03)" font-size="26.5">0.027</text><text transform="translate(1327.4 3154.5) scale(1 1.03)" font-size="26.5">0.022</text><text transform="translate(1327.4 3194.1) scale(1 1.03)" font-size="26.5">0.018</text><text transform="translate(1327.4 3233.8) scale(1 1.03)" font-size="26.5">0.013</text><text transform="translate(1327.4 3273.5) scale(1 1.03)" font-size="26.5">0.009</text><text transform="translate(1327.4 3313.1) scale(1 1.03)" font-size="26.5">0.004</text><text transform="translate(1327.4 3346.0) scale(1 1.03)" font-size="26.5">0.000</text><text transform="translate(1303.0 2674.2) scale(1 1.08)" font-size="42">eyy</text></g>
<g id="charts"><path d="M1583.5 212.3 V703 M2073.7 212.3 V703 M1566.5 212.3 H2073.7 M1566.5 703 H2073.7" stroke="#7a7a7a" stroke-width="2" fill="none"/>
<path d="M1566.5 703.0 H1583.5 M1566.5 632.9 H1583.5 M1566.5 562.7 H1583.5 M1566.5 492.5 H1583.5 M1566.5 422.4 H1583.5 M1566.5 352.2 H1583.5 M1566.5 282.1 H1583.5 M1566.5 211.9 H1583.5 M1574.5 667.9 H1583.5 M1574.5 597.8 H1583.5 M1574.5 527.6 H1583.5 M1574.5 457.5 H1583.5 M1574.5 387.3 H1583.5 M1574.5 317.2 H1583.5 M1574.5 247.0 H1583.5 M2073.7 703.0 H2089.7 M2073.7 670.0 H2081.7 M2073.7 637.0 H2089.7 M2073.7 604.1 H2081.7 M2073.7 571.1 H2089.7 M2073.7 538.1 H2081.7 M2073.7 505.1 H2089.7 M2073.7 472.1 H2081.7 M2073.7 439.2 H2089.7 M2073.7 406.2 H2081.7 M2073.7 373.2 H2089.7 M2073.7 340.2 H2081.7 M2073.7 307.2 H2089.7 M2073.7 274.3 H2081.7 M2073.7 241.3 H2089.7 M2073.7 208.3 H2081.7 M1606.0 703 V720 M1652.0 703 V711.5 M1697.9 703 V720 M1743.9 703 V711.5 M1789.8 703 V720 M1835.8 703 V711.5 M1881.8 703 V720 M1927.7 703 V711.5 M1973.7 703 V720 M2019.6 703 V711.5 M2065.6 703 V720 M1607.0 212.3 V197.8 M1636.2 212.3 V205.3 M1665.3 212.3 V197.8 M1694.5 212.3 V205.3 M1723.6 212.3 V197.8 M1752.8 212.3 V205.3 M1781.9 212.3 V197.8 M1811.0 212.3 V205.3 M1840.2 212.3 V197.8 M1869.3 212.3 V205.3 M1898.5 212.3 V197.8 M1927.7 212.3 V205.3 M1956.8 212.3 V197.8 M1986.0 212.3 V205.3 M2015.1 212.3 V197.8 M2044.2 212.3 V205.3 M2073.4 212.3 V197.8" stroke="#7a7a7a" stroke-width="2" fill="none"/>
<g font-size="30" fill="#111"><text x="1557" y="713.0" text-anchor="end">0</text><text x="1557" y="642.9" text-anchor="end">1</text><text x="1557" y="572.7" text-anchor="end">2</text><text x="1557" y="502.5" text-anchor="end">3</text><text x="1557" y="432.4" text-anchor="end">4</text><text x="1557" y="362.2" text-anchor="end">5</text><text x="1557" y="292.1" text-anchor="end">6</text><text x="1557" y="221.9" text-anchor="end">7</text><text x="2098" y="713.0">0.0</text><text x="2098" y="647.0">0.4</text><text x="2098" y="581.1">0.8</text><text x="2098" y="515.1">1.2</text><text x="2098" y="449.2">1.6</text><text x="2098" y="383.2">2.0</text><text x="2098" y="317.2">2.4</text><text x="2098" y="251.3">2.8</text><text x="1606.0" y="755" text-anchor="middle">0</text><text x="1697.9" y="755" text-anchor="middle">0.4</text><text x="1789.8" y="755" text-anchor="middle">0.8</text><text x="1881.8" y="755" text-anchor="middle">1.2</text><text x="1973.7" y="755" text-anchor="middle">1.6</text><text x="2065.6" y="755" text-anchor="middle">2</text><text x="1607.0" y="180.3" text-anchor="middle">0.0</text><text x="1665.3" y="180.3" text-anchor="middle">0.2</text><text x="1723.6" y="180.3" text-anchor="middle">0.4</text><text x="1781.9" y="180.3" text-anchor="middle">0.6</text><text x="1840.2" y="180.3" text-anchor="middle">0.8</text><text x="1898.5" y="180.3" text-anchor="middle">1.0</text><text x="1956.8" y="180.3" text-anchor="middle">1.2</text><text x="2015.1" y="180.3" text-anchor="middle">1.4</text><text x="2073.4" y="180.3" text-anchor="middle">1.6</text></g>
<g font-size="40" fill="#111"><text x="1827.5" y="142.3" text-anchor="middle">Crack opening (mm)</text><text x="1827.5" y="797.6" text-anchor="middle">Strain (%)</text><text transform="translate(1529.4 457.4) rotate(-90)" text-anchor="middle">Stress (MPa)</text><text transform="translate(2184 458) rotate(-90)" text-anchor="middle">Load (kN)</text></g>
<path d="M1605.9 702.9 L1605.9 683.4 L1605.9 659.1 L1605.9 614.8 L1605.9 573.8 L1606.9 525.7 L1608.3 467.4 L1610.1 405.8 L1613.0 341.3 L1614.5 331.9 L1610.4 316.7 L1611.9 291.3 L1627.8 329.0 L1658.3 379.7 L1700.7 432.3 L1742.0 442.0 L1777.6 452.5 L1816.8 460.4 L1854.5 469.7 L1890.9 474.9 L1926.8 487.5 L1963.7 495.9 L2000.1 504.7 L2031.8 514.5 L2067.7 522.9" stroke="#ff0000" stroke-width="3.2" fill="none" stroke-linejoin="round"/>
<circle cx="1605.9" cy="702.9" r="5.6" fill="#ff0000"/><circle cx="1605.9" cy="683.4" r="5.6" fill="#ff0000"/><circle cx="1605.9" cy="659.1" r="5.6" fill="#ff0000"/><circle cx="1605.9" cy="614.8" r="5.6" fill="#ff0000"/><circle cx="1605.9" cy="573.8" r="5.6" fill="#ff0000"/><circle cx="1606.9" cy="525.7" r="5.6" fill="#ff0000"/><circle cx="1608.3" cy="467.4" r="5.6" fill="#ff0000"/><circle cx="1610.1" cy="405.8" r="5.6" fill="#ff0000"/><circle cx="1613.0" cy="341.3" r="5.6" fill="#ff0000"/><circle cx="1614.5" cy="331.9" r="5.6" fill="#ff0000"/><circle cx="1610.4" cy="316.7" r="5.6" fill="#ff0000"/><circle cx="1611.9" cy="291.3" r="5.6" fill="#ff0000"/><circle cx="1627.8" cy="329.0" r="5.6" fill="#ff0000"/><circle cx="1658.3" cy="379.7" r="5.6" fill="#ff0000"/><circle cx="1700.7" cy="432.3" r="5.6" fill="#ff0000"/><circle cx="1742.0" cy="442.0" r="5.6" fill="#ff0000"/><circle cx="1777.6" cy="452.5" r="5.6" fill="#ff0000"/><circle cx="1816.8" cy="460.4" r="5.6" fill="#ff0000"/><circle cx="1854.5" cy="469.7" r="5.6" fill="#ff0000"/><circle cx="1890.9" cy="474.9" r="5.6" fill="#ff0000"/><circle cx="1926.8" cy="487.5" r="5.6" fill="#ff0000"/><circle cx="1963.7" cy="495.9" r="5.6" fill="#ff0000"/><circle cx="2000.1" cy="504.7" r="5.6" fill="#ff0000"/><circle cx="2031.8" cy="514.5" r="5.6" fill="#ff0000"/><circle cx="2067.7" cy="522.9" r="5.6" fill="#ff0000"/>
<path d="M1887 255 H1958" stroke="#ff0000" stroke-width="3.2"/>
<circle cx="1887.0" cy="255" r="7" fill="#ff0000"/>
<circle cx="1922.5" cy="255" r="7" fill="#ff0000"/>
<circle cx="1958.0" cy="255" r="7" fill="#ff0000"/>
<text x="1970.9" y="265.7" font-size="31" fill="#111">REF</text>
<g font-size="30" fill="#111"><text x="1590" y="282.6">A</text><text x="1638" y="328.3">B</text></g>
<g font-size="44" font-style="italic" fill="#555"><text x="1621" y="284">σ</text><text x="1713" y="418.8">σ</text></g>
<g font-size="37" fill="#111" stroke="#111" stroke-width="0.9"><text x="1648" y="297.8">cc</text><text x="1741" y="431.2">pc</text></g>
<path d="M1583.5 1058.3 V1549 M2073.7 1058.3 V1549 M1566.5 1058.3 H2073.7 M1566.5 1549 H2073.7" stroke="#7a7a7a" stroke-width="2" fill="none"/>
<path d="M1566.5 1549.0 H1583.5 M1566.5 1478.8 H1583.5 M1566.5 1408.7 H1583.5 M1566.5 1338.5 H1583.5 M1566.5 1268.4 H1583.5 M1566.5 1198.2 H1583.5 M1566.5 1128.1 H1583.5 M1566.5 1057.9 H1583.5 M1574.5 1513.9 H1583.5 M1574.5 1443.8 H1583.5 M1574.5 1373.6 H1583.5 M1574.5 1303.5 H1583.5 M1574.5 1233.3 H1583.5 M1574.5 1163.2 H1583.5 M1574.5 1093.0 H1583.5 M2073.7 1549.0 H2089.7 M2073.7 1516.0 H2081.7 M2073.7 1483.0 H2089.7 M2073.7 1450.1 H2081.7 M2073.7 1417.1 H2089.7 M2073.7 1384.1 H2081.7 M2073.7 1351.1 H2089.7 M2073.7 1318.1 H2081.7 M2073.7 1285.2 H2089.7 M2073.7 1252.2 H2081.7 M2073.7 1219.2 H2089.7 M2073.7 1186.2 H2081.7 M2073.7 1153.2 H2089.7 M2073.7 1120.3 H2081.7 M2073.7 1087.3 H2089.7 M2073.7 1054.3 H2081.7 M1606.0 1549 V1566 M1652.0 1549 V1557.5 M1697.9 1549 V1566 M1743.9 1549 V1557.5 M1789.8 1549 V1566 M1835.8 1549 V1557.5 M1881.8 1549 V1566 M1927.7 1549 V1557.5 M1973.7 1549 V1566 M2019.6 1549 V1557.5 M2065.6 1549 V1566 M1607.0 1058.3 V1043.8 M1636.2 1058.3 V1051.3 M1665.3 1058.3 V1043.8 M1694.5 1058.3 V1051.3 M1723.6 1058.3 V1043.8 M1752.8 1058.3 V1051.3 M1781.9 1058.3 V1043.8 M1811.0 1058.3 V1051.3 M1840.2 1058.3 V1043.8 M1869.3 1058.3 V1051.3 M1898.5 1058.3 V1043.8 M1927.7 1058.3 V1051.3 M1956.8 1058.3 V1043.8 M1986.0 1058.3 V1051.3 M2015.1 1058.3 V1043.8 M2044.2 1058.3 V1051.3 M2073.4 1058.3 V1043.8" stroke="#7a7a7a" stroke-width="2" fill="none"/>
<g font-size="30" fill="#111"><text x="1557" y="1559.0" text-anchor="end">0</text><text x="1557" y="1488.8" text-anchor="end">1</text><text x="1557" y="1418.7" text-anchor="end">2</text><text x="1557" y="1348.5" text-anchor="end">3</text><text x="1557" y="1278.4" text-anchor="end">4</text><text x="1557" y="1208.2" text-anchor="end">5</text><text x="1557" y="1138.1" text-anchor="end">6</text><text x="1557" y="1067.9" text-anchor="end">7</text><text x="2098" y="1559.0">0.0</text><text x="2098" y="1493.0">0.4</text><text x="2098" y="1427.1">0.8</text><text x="2098" y="1361.1">1.2</text><text x="2098" y="1295.2">1.6</text><text x="2098" y="1229.2">2.0</text><text x="2098" y="1163.2">2.4</text><text x="2098" y="1097.3">2.8</text><text x="1606.0" y="1601" text-anchor="middle">0</text><text x="1697.9" y="1601" text-anchor="middle">0.4</text><text x="1789.8" y="1601" text-anchor="middle">0.8</text><text x="1881.8" y="1601" text-anchor="middle">1.2</text><text x="1973.7" y="1601" text-anchor="middle">1.6</text><text x="2065.6" y="1601" text-anchor="middle">2</text><text x="1607.0" y="1026.3" text-anchor="middle">0.0</text><text x="1665.3" y="1026.3" text-anchor="middle">0.2</text><text x="1723.6" y="1026.3" text-anchor="middle">0.4</text><text x="1781.9" y="1026.3" text-anchor="middle">0.6</text><text x="1840.2" y="1026.3" text-anchor="middle">0.8</text><text x="1898.5" y="1026.3" text-anchor="middle">1.0</text><text x="1956.8" y="1026.3" text-anchor="middle">1.2</text><text x="2015.1" y="1026.3" text-anchor="middle">1.4</text><text x="2073.4" y="1026.3" text-anchor="middle">1.6</text></g>
<g font-size="40" fill="#111"><text x="1827.5" y="988.3" text-anchor="middle">Crack opening (mm)</text><text x="1827.5" y="1643.6" text-anchor="middle">Strain (%)</text><text transform="translate(1529.4 1303.4) rotate(-90)" text-anchor="middle">Stress (MPa)</text><text transform="translate(2184 1304) rotate(-90)" text-anchor="middle">Load (kN)</text></g>
<path d="M1605.9 1549.3 L1605.9 1525.1 L1605.9 1514.4 L1605.9 1502.7 L1605.9 1489.6 L1606.4 1472.4 L1606.9 1450.0 L1606.9 1422.5 L1607.3 1391.2 L1608.3 1359.0 L1611.1 1323.1 L1613.9 1286.8 L1620.9 1248.5 L1632.5 1258.8 L1646.0 1297.0 L1664.2 1323.1 L1691.3 1357.6 L1724.9 1387.5 L1750.5 1396.8 L1776.2 1408.5 L1802.8 1417.8 L1829.8 1423.4 L1856.4 1432.7 L1882.1 1438.8 L1908.2 1444.4 L1934.8 1449.1 L1961.3 1453.7 L1987.5 1463.5 L2014.1 1470.5 L2040.6 1474.7 L2066.3 1480.3" stroke="#0000ff" stroke-width="3.2" fill="none" stroke-linejoin="round"/>
<circle cx="1605.9" cy="1549.3" r="5.6" fill="#0000ff"/><circle cx="1605.9" cy="1525.1" r="5.6" fill="#0000ff"/><circle cx="1605.9" cy="1514.4" r="5.6" fill="#0000ff"/><circle cx="1605.9" cy="1502.7" r="5.6" fill="#0000ff"/><circle cx="1605.9" cy="1489.6" r="5.6" fill="#0000ff"/><circle cx="1606.4" cy="1472.4" r="5.6" fill="#0000ff"/><circle cx="1606.9" cy="1450.0" r="5.6" fill="#0000ff"/><circle cx="1606.9" cy="1422.5" r="5.6" fill="#0000ff"/><circle cx="1607.3" cy="1391.2" r="5.6" fill="#0000ff"/><circle cx="1608.3" cy="1359.0" r="5.6" fill="#0000ff"/><circle cx="1611.1" cy="1323.1" r="5.6" fill="#0000ff"/><circle cx="1613.9" cy="1286.8" r="5.6" fill="#0000ff"/><circle cx="1620.9" cy="1248.5" r="5.6" fill="#0000ff"/><circle cx="1632.5" cy="1258.8" r="5.6" fill="#0000ff"/><circle cx="1646.0" cy="1297.0" r="5.6" fill="#0000ff"/><circle cx="1664.2" cy="1323.1" r="5.6" fill="#0000ff"/><circle cx="1691.3" cy="1357.6" r="5.6" fill="#0000ff"/><circle cx="1724.9" cy="1387.5" r="5.6" fill="#0000ff"/><circle cx="1750.5" cy="1396.8" r="5.6" fill="#0000ff"/><circle cx="1776.2" cy="1408.5" r="5.6" fill="#0000ff"/><circle cx="1802.8" cy="1417.8" r="5.6" fill="#0000ff"/><circle cx="1829.8" cy="1423.4" r="5.6" fill="#0000ff"/><circle cx="1856.4" cy="1432.7" r="5.6" fill="#0000ff"/><circle cx="1882.1" cy="1438.8" r="5.6" fill="#0000ff"/><circle cx="1908.2" cy="1444.4" r="5.6" fill="#0000ff"/><circle cx="1934.8" cy="1449.1" r="5.6" fill="#0000ff"/><circle cx="1961.3" cy="1453.7" r="5.6" fill="#0000ff"/><circle cx="1987.5" cy="1463.5" r="5.6" fill="#0000ff"/><circle cx="2014.1" cy="1470.5" r="5.6" fill="#0000ff"/><circle cx="2040.6" cy="1474.7" r="5.6" fill="#0000ff"/><circle cx="2066.3" cy="1480.3" r="5.6" fill="#0000ff"/>
<path d="M1867.1 1103.9 H1937.1" stroke="#0000ff" stroke-width="3.2"/>
<circle cx="1867.1" cy="1103.9" r="7" fill="#0000ff"/>
<circle cx="1902.1" cy="1103.9" r="7" fill="#0000ff"/>
<circle cx="1937.1" cy="1103.9" r="7" fill="#0000ff"/>
<text x="1950.2" y="1114.5" font-size="31" fill="#111">0.2 SAP</text>
<g font-size="30" fill="#111"><text x="1593" y="1239.3">A</text><text x="1647.4" y="1286.4">B</text></g>
<g font-size="44" font-style="italic" fill="#555"><text x="1623.5" y="1236.4">σ</text><text x="1722.8" y="1371.2">σ</text></g>
<g font-size="37" fill="#111" stroke="#111" stroke-width="0.9"><text x="1651" y="1249.4">cc</text><text x="1750.3" y="1383.5">pc</text></g>
<path d="M1583.5 1900.3 V2391 M2073.7 1900.3 V2391 M1566.5 1900.3 H2073.7 M1566.5 2391 H2073.7" stroke="#7a7a7a" stroke-width="2" fill="none"/>
<path d="M1566.5 2391.0 H1583.5 M1566.5 2320.8 H1583.5 M1566.5 2250.7 H1583.5 M1566.5 2180.6 H1583.5 M1566.5 2110.4 H1583.5 M1566.5 2040.2 H1583.5 M1566.5 1970.1 H1583.5 M1566.5 1899.9 H1583.5 M1574.5 2355.9 H1583.5 M1574.5 2285.8 H1583.5 M1574.5 2215.6 H1583.5 M1574.5 2145.5 H1583.5 M1574.5 2075.3 H1583.5 M1574.5 2005.2 H1583.5 M1574.5 1935.0 H1583.5 M2073.7 2391.0 H2089.7 M2073.7 2358.0 H2081.7 M2073.7 2325.0 H2089.7 M2073.7 2292.1 H2081.7 M2073.7 2259.1 H2089.7 M2073.7 2226.1 H2081.7 M2073.7 2193.1 H2089.7 M2073.7 2160.1 H2081.7 M2073.7 2127.2 H2089.7 M2073.7 2094.2 H2081.7 M2073.7 2061.2 H2089.7 M2073.7 2028.2 H2081.7 M2073.7 1995.2 H2089.7 M2073.7 1962.3 H2081.7 M2073.7 1929.3 H2089.7 M2073.7 1896.3 H2081.7 M1606.0 2391 V2408 M1652.0 2391 V2399.5 M1697.9 2391 V2408 M1743.9 2391 V2399.5 M1789.8 2391 V2408 M1835.8 2391 V2399.5 M1881.8 2391 V2408 M1927.7 2391 V2399.5 M1973.7 2391 V2408 M2019.6 2391 V2399.5 M2065.6 2391 V2408 M1607.0 1900.3 V1885.8 M1636.2 1900.3 V1893.3 M1665.3 1900.3 V1885.8 M1694.5 1900.3 V1893.3 M1723.6 1900.3 V1885.8 M1752.8 1900.3 V1893.3 M1781.9 1900.3 V1885.8 M1811.0 1900.3 V1893.3 M1840.2 1900.3 V1885.8 M1869.3 1900.3 V1893.3 M1898.5 1900.3 V1885.8 M1927.7 1900.3 V1893.3 M1956.8 1900.3 V1885.8 M1986.0 1900.3 V1893.3 M2015.1 1900.3 V1885.8 M2044.2 1900.3 V1893.3 M2073.4 1900.3 V1885.8" stroke="#7a7a7a" stroke-width="2" fill="none"/>
<g font-size="30" fill="#111"><text x="1557" y="2401.0" text-anchor="end">0</text><text x="1557" y="2330.8" text-anchor="end">1</text><text x="1557" y="2260.7" text-anchor="end">2</text><text x="1557" y="2190.6" text-anchor="end">3</text><text x="1557" y="2120.4" text-anchor="end">4</text><text x="1557" y="2050.2" text-anchor="end">5</text><text x="1557" y="1980.1" text-anchor="end">6</text><text x="1557" y="1909.9" text-anchor="end">7</text><text x="2098" y="2401.0">0.0</text><text x="2098" y="2335.0">0.4</text><text x="2098" y="2269.1">0.8</text><text x="2098" y="2203.1">1.2</text><text x="2098" y="2137.2">1.6</text><text x="2098" y="2071.2">2.0</text><text x="2098" y="2005.2">2.4</text><text x="2098" y="1939.3">2.8</text><text x="1606.0" y="2443" text-anchor="middle">0</text><text x="1697.9" y="2443" text-anchor="middle">0.4</text><text x="1789.8" y="2443" text-anchor="middle">0.8</text><text x="1881.8" y="2443" text-anchor="middle">1.2</text><text x="1973.7" y="2443" text-anchor="middle">1.6</text><text x="2065.6" y="2443" text-anchor="middle">2</text><text x="1607.0" y="1868.3" text-anchor="middle">0.0</text><text x="1665.3" y="1868.3" text-anchor="middle">0.2</text><text x="1723.6" y="1868.3" text-anchor="middle">0.4</text><text x="1781.9" y="1868.3" text-anchor="middle">0.6</text><text x="1840.2" y="1868.3" text-anchor="middle">0.8</text><text x="1898.5" y="1868.3" text-anchor="middle">1.0</text><text x="1956.8" y="1868.3" text-anchor="middle">1.2</text><text x="2015.1" y="1868.3" text-anchor="middle">1.4</text><text x="2073.4" y="1868.3" text-anchor="middle">1.6</text></g>
<g font-size="40" fill="#111"><text x="1827.5" y="1830.3" text-anchor="middle">Crack opening (mm)</text><text x="1827.5" y="2485.6" text-anchor="middle">Strain (%)</text><text transform="translate(1529.4 2145.4) rotate(-90)" text-anchor="middle">Stress (MPa)</text><text transform="translate(2184 2146) rotate(-90)" text-anchor="middle">Load (kN)</text></g>
<path d="M1605.9 2391.3 L1606.9 2375.0 L1606.9 2368.0 L1606.9 2361.0 L1606.9 2351.7 L1606.4 2344.7 L1606.4 2336.8 L1606.4 2325.1 L1606.4 2312.1 L1606.9 2292.0 L1607.3 2272.4 L1607.3 2251.4 L1607.3 2230.4 L1607.8 2204.8 L1608.7 2179.1 L1609.2 2153.9 L1610.1 2127.8 L1611.1 2097.5 L1612.0 2067.2 L1613.4 2033.6 L1615.8 1996.9 L1622.2 2011.6 L1797.2 2008.0 L1908.2 2009.4 L1947.8 2016.8 L1971.1 2032.2 L1982.3 2049.9 L1997.7 2053.7 L2016.4 2065.3 L2046.2 2072.3" stroke="#000000" stroke-width="3.2" fill="none" stroke-linejoin="round"/>
<circle cx="1605.9" cy="2391.3" r="5.6" fill="#000000"/><circle cx="1606.9" cy="2375.0" r="5.6" fill="#000000"/><circle cx="1606.9" cy="2368.0" r="5.6" fill="#000000"/><circle cx="1606.9" cy="2361.0" r="5.6" fill="#000000"/><circle cx="1606.9" cy="2351.7" r="5.6" fill="#000000"/><circle cx="1606.4" cy="2344.7" r="5.6" fill="#000000"/><circle cx="1606.4" cy="2336.8" r="5.6" fill="#000000"/><circle cx="1606.4" cy="2325.1" r="5.6" fill="#000000"/><circle cx="1606.4" cy="2312.1" r="5.6" fill="#000000"/><circle cx="1606.9" cy="2292.0" r="5.6" fill="#000000"/><circle cx="1607.3" cy="2272.4" r="5.6" fill="#000000"/><circle cx="1607.3" cy="2251.4" r="5.6" fill="#000000"/><circle cx="1607.3" cy="2230.4" r="5.6" fill="#000000"/><circle cx="1607.8" cy="2204.8" r="5.6" fill="#000000"/><circle cx="1608.7" cy="2179.1" r="5.6" fill="#000000"/><circle cx="1609.2" cy="2153.9" r="5.6" fill="#000000"/><circle cx="1610.1" cy="2127.8" r="5.6" fill="#000000"/><circle cx="1611.1" cy="2097.5" r="5.6" fill="#000000"/><circle cx="1612.0" cy="2067.2" r="5.6" fill="#000000"/><circle cx="1613.4" cy="2033.6" r="5.6" fill="#000000"/><circle cx="1615.8" cy="1996.9" r="5.6" fill="#000000"/><circle cx="1622.2" cy="2011.6" r="5.6" fill="#000000"/><circle cx="1797.2" cy="2008.0" r="5.6" fill="#000000"/><circle cx="1908.2" cy="2009.4" r="5.6" fill="#000000"/><circle cx="1947.8" cy="2016.8" r="5.6" fill="#000000"/><circle cx="1971.1" cy="2032.2" r="5.6" fill="#000000"/><circle cx="1982.3" cy="2049.9" r="5.6" fill="#000000"/><circle cx="1997.7" cy="2053.7" r="5.6" fill="#000000"/><circle cx="2016.4" cy="2065.3" r="5.6" fill="#000000"/><circle cx="2046.2" cy="2072.3" r="5.6" fill="#000000"/>
<path d="M1867.1 1945.9 H1937.1" stroke="#000000" stroke-width="3.2"/>
<circle cx="1867.1" cy="1945.9" r="7" fill="#000000"/>
<circle cx="1902.1" cy="1945.9" r="7" fill="#000000"/>
<circle cx="1937.1" cy="1945.9" r="7" fill="#000000"/>
<text x="1950.2" y="1956.5" font-size="31" fill="#111">0.3 SAP</text>
<g font-size="30" fill="#111"><text x="1591" y="1996.9">A</text><text x="1625.8" y="2052.8">B</text></g>
<g font-size="44" font-style="italic" fill="#555"><text x="1618" y="1985.8">σ</text><text x="1946.4" y="2001.9">σ</text></g>
<g font-size="37" fill="#111" stroke="#111" stroke-width="0.9"><text x="1644.8" y="2000.6">cc</text><text x="1973" y="2018.2">pc</text></g>
<path d="M1583.5 2746.3 V3237 M2073.7 2746.3 V3237 M1566.5 2746.3 H2073.7 M1566.5 3237 H2073.7" stroke="#7a7a7a" stroke-width="2" fill="none"/>
<path d="M1566.5 3237.0 H1583.5 M1566.5 3166.8 H1583.5 M1566.5 3096.7 H1583.5 M1566.5 3026.6 H1583.5 M1566.5 2956.4 H1583.5 M1566.5 2886.2 H1583.5 M1566.5 2816.1 H1583.5 M1566.5 2745.9 H1583.5 M1574.5 3201.9 H1583.5 M1574.5 3131.8 H1583.5 M1574.5 3061.6 H1583.5 M1574.5 2991.5 H1583.5 M1574.5 2921.3 H1583.5 M1574.5 2851.2 H1583.5 M1574.5 2781.0 H1583.5 M2073.7 3237.0 H2089.7 M2073.7 3204.0 H2081.7 M2073.7 3171.0 H2089.7 M2073.7 3138.1 H2081.7 M2073.7 3105.1 H2089.7 M2073.7 3072.1 H2081.7 M2073.7 3039.1 H2089.7 M2073.7 3006.1 H2081.7 M2073.7 2973.2 H2089.7 M2073.7 2940.2 H2081.7 M2073.7 2907.2 H2089.7 M2073.7 2874.2 H2081.7 M2073.7 2841.2 H2089.7 M2073.7 2808.3 H2081.7 M2073.7 2775.3 H2089.7 M2073.7 2742.3 H2081.7 M1606.0 3237 V3254 M1652.0 3237 V3245.5 M1697.9 3237 V3254 M1743.9 3237 V3245.5 M1789.8 3237 V3254 M1835.8 3237 V3245.5 M1881.8 3237 V3254 M1927.7 3237 V3245.5 M1973.7 3237 V3254 M2019.6 3237 V3245.5 M2065.6 3237 V3254 M1607.0 2746.3 V2731.8 M1636.2 2746.3 V2739.3 M1665.3 2746.3 V2731.8 M1694.5 2746.3 V2739.3 M1723.6 2746.3 V2731.8 M1752.8 2746.3 V2739.3 M1781.9 2746.3 V2731.8 M1811.0 2746.3 V2739.3 M1840.2 2746.3 V2731.8 M1869.3 2746.3 V2739.3 M1898.5 2746.3 V2731.8 M1927.7 2746.3 V2739.3 M1956.8 2746.3 V2731.8 M1986.0 2746.3 V2739.3 M2015.1 2746.3 V2731.8 M2044.2 2746.3 V2739.3 M2073.4 2746.3 V2731.8" stroke="#7a7a7a" stroke-width="2" fill="none"/>
<g font-size="30" fill="#111"><text x="1557" y="3247.0" text-anchor="end">0</text><text x="1557" y="3176.8" text-anchor="end">1</text><text x="1557" y="3106.7" text-anchor="end">2</text><text x="1557" y="3036.6" text-anchor="end">3</text><text x="1557" y="2966.4" text-anchor="end">4</text><text x="1557" y="2896.2" text-anchor="end">5</text><text x="1557" y="2826.1" text-anchor="end">6</text><text x="1557" y="2755.9" text-anchor="end">7</text><text x="2098" y="3247.0">0.0</text><text x="2098" y="3181.0">0.4</text><text x="2098" y="3115.1">0.8</text><text x="2098" y="3049.1">1.2</text><text x="2098" y="2983.2">1.6</text><text x="2098" y="2917.2">2.0</text><text x="2098" y="2851.2">2.4</text><text x="2098" y="2785.3">2.8</text><text x="1606.0" y="3289" text-anchor="middle">0</text><text x="1697.9" y="3289" text-anchor="middle">0.4</text><text x="1789.8" y="3289" text-anchor="middle">0.8</text><text x="1881.8" y="3289" text-anchor="middle">1.2</text><text x="1973.7" y="3289" text-anchor="middle">1.6</text><text x="2065.6" y="3289" text-anchor="middle">2</text><text x="1607.0" y="2714.3" text-anchor="middle">0.0</text><text x="1665.3" y="2714.3" text-anchor="middle">0.2</text><text x="1723.6" y="2714.3" text-anchor="middle">0.4</text><text x="1781.9" y="2714.3" text-anchor="middle">0.6</text><text x="1840.2" y="2714.3" text-anchor="middle">0.8</text><text x="1898.5" y="2714.3" text-anchor="middle">1.0</text><text x="1956.8" y="2714.3" text-anchor="middle">1.2</text><text x="2015.1" y="2714.3" text-anchor="middle">1.4</text><text x="2073.4" y="2714.3" text-anchor="middle">1.6</text></g>
<g font-size="40" fill="#111"><text x="1827.5" y="2676.3" text-anchor="middle">Crack opening (mm)</text><text x="1827.5" y="3331.6" text-anchor="middle">Strain (%)</text><text transform="translate(1529.4 2991.4) rotate(-90)" text-anchor="middle">Stress (MPa)</text><text transform="translate(2184 2992) rotate(-90)" text-anchor="middle">Load (kN)</text></g>
<path d="M1605.0 3237.3 L1605.5 3230.0 L1606.0 3225.0 L1606.2 3219.9 L1606.2 3212.0 L1606.2 3205.3 L1606.2 3198.0 L1606.2 3190.8 L1606.5 3183.5 L1606.5 3174.8 L1606.5 3164.6 L1606.5 3153.7 L1607.6 3136.3 L1607.3 3115.9 L1607.6 3094.8 L1607.6 3081.7 L1608.4 3071.6 L1609.1 3043.2 L1609.8 3012.7 L1610.5 2981.4 L1613.7 2948.0 L1617.1 2921.8 L1802.8 2993.4 L1966.0 3005.0 L1989.3 3013.5 L2012.7 3018.1 L2026.6 3022.8 L2043.0 3029.8 L2070.0 3037.3" stroke="#808080" stroke-width="3.2" fill="none" stroke-linejoin="round"/>
<circle cx="1605.0" cy="3237.3" r="5.6" fill="#808080"/><circle cx="1605.5" cy="3230.0" r="5.6" fill="#808080"/><circle cx="1606.0" cy="3225.0" r="5.6" fill="#808080"/><circle cx="1606.2" cy="3219.9" r="5.6" fill="#808080"/><circle cx="1606.2" cy="3212.0" r="5.6" fill="#808080"/><circle cx="1606.2" cy="3205.3" r="5.6" fill="#808080"/><circle cx="1606.2" cy="3198.0" r="5.6" fill="#808080"/><circle cx="1606.2" cy="3190.8" r="5.6" fill="#808080"/><circle cx="1606.5" cy="3183.5" r="5.6" fill="#808080"/><circle cx="1606.5" cy="3174.8" r="5.6" fill="#808080"/><circle cx="1606.5" cy="3164.6" r="5.6" fill="#808080"/><circle cx="1606.5" cy="3153.7" r="5.6" fill="#808080"/><circle cx="1607.6" cy="3136.3" r="5.6" fill="#808080"/><circle cx="1607.3" cy="3115.9" r="5.6" fill="#808080"/><circle cx="1607.6" cy="3094.8" r="5.6" fill="#808080"/><circle cx="1607.6" cy="3081.7" r="5.6" fill="#808080"/><circle cx="1608.4" cy="3071.6" r="5.6" fill="#808080"/><circle cx="1609.1" cy="3043.2" r="5.6" fill="#808080"/><circle cx="1609.8" cy="3012.7" r="5.6" fill="#808080"/><circle cx="1610.5" cy="2981.4" r="5.6" fill="#808080"/><circle cx="1613.7" cy="2948.0" r="5.6" fill="#808080"/><circle cx="1617.1" cy="2921.8" r="5.6" fill="#808080"/><circle cx="1802.8" cy="2993.4" r="5.6" fill="#808080"/><circle cx="1966.0" cy="3005.0" r="5.6" fill="#808080"/><circle cx="1989.3" cy="3013.5" r="5.6" fill="#808080"/><circle cx="2012.7" cy="3018.1" r="5.6" fill="#808080"/><circle cx="2026.6" cy="3022.8" r="5.6" fill="#808080"/><circle cx="2043.0" cy="3029.8" r="5.6" fill="#808080"/><circle cx="2070.0" cy="3037.3" r="5.6" fill="#808080"/>
<path d="M1867.1 2796.6 H1935.7" stroke="#808080" stroke-width="3.2"/>
<circle cx="1867.1" cy="2796.6" r="7" fill="#808080"/>
<circle cx="1901.4" cy="2796.6" r="7" fill="#808080"/>
<circle cx="1935.7" cy="2796.6" r="7" fill="#808080"/>
<text x="1948.7" y="2807.2" font-size="31" fill="#111">0.6 SAP</text>
<g font-size="30" fill="#111"><text x="1590.5" y="2910.9">A</text><text x="1793.4" y="2982.2">B</text></g>
<g font-size="44" font-style="italic" fill="#555"><text x="1626" y="2908.5">σ</text><text x="1963.7" y="2987">σ</text></g>
<g font-size="37" fill="#111" stroke="#111" stroke-width="0.9"><text x="1650" y="2923.4">cc</text><text x="1990.7" y="3002.7">pc</text></g></g>
<rect x="32.8" y="33.8" width="2.4" height="3453.4" fill="#000"/>
<rect x="209.3" y="33.8" width="2.4" height="3453.4" fill="#000"/>
<rect x="846.8" y="33.8" width="2.4" height="3453.4" fill="#000"/>
<rect x="1484.8" y="33.8" width="2.4" height="3453.4" fill="#000"/>
<rect x="2192.8" y="33.8" width="2.4" height="3453.4" fill="#000"/>
<rect x="32.8" y="33.8" width="2162.4" height="2.4" fill="#000"/>
<rect x="32.8" y="102.8" width="2162.4" height="2.4" fill="#000"/>
<rect x="32.8" y="948.8" width="2162.4" height="2.4" fill="#000"/>
<rect x="32.8" y="1790.8" width="2162.4" height="2.4" fill="#000"/>
<rect x="32.8" y="2636.8" width="2162.4" height="2.4" fill="#000"/>
<rect x="32.8" y="3484.8" width="2162.4" height="2.4" fill="#000"/>
<text x="122" y="88.5" text-anchor="middle" font-size="51" font-weight="bold" textLength="91" lengthAdjust="spacingAndGlyphs">Mix</text>
<text x="515" y="88.5" text-anchor="middle" font-size="51" font-weight="bold" textLength="331" lengthAdjust="spacingAndGlyphs">First Crack (A)</text>
<text x="1153" y="88.5" text-anchor="middle" font-size="51" font-weight="bold" textLength="504" lengthAdjust="spacingAndGlyphs">Crack Propagation (B)</text>
<text x="1840" y="88.5" text-anchor="middle" font-size="51" font-weight="bold" textLength="520" lengthAdjust="spacingAndGlyphs">Moment in the graphic</text>
<text x="122" y="158" text-anchor="middle" font-size="52" font-weight="bold" textLength="108" lengthAdjust="spacingAndGlyphs">REF-</text>
<text x="122" y="225" text-anchor="middle" font-size="52" font-weight="bold" textLength="99.4" lengthAdjust="spacingAndGlyphs">035F</text>
<text x="122" y="1004" text-anchor="middle" font-size="52" font-weight="bold" textLength="109.5" lengthAdjust="spacingAndGlyphs">SAP-</text>
<text x="122" y="1071" text-anchor="middle" font-size="52" font-weight="bold" textLength="88.3" lengthAdjust="spacingAndGlyphs">0.2F</text>
<text x="122" y="1846" text-anchor="middle" font-size="52" font-weight="bold" textLength="109.5" lengthAdjust="spacingAndGlyphs">SAP-</text>
<text x="122" y="1913" text-anchor="middle" font-size="52" font-weight="bold" textLength="88.3" lengthAdjust="spacingAndGlyphs">0.3F</text>
<text x="122" y="2692" text-anchor="middle" font-size="52" font-weight="bold" textLength="109.5" lengthAdjust="spacingAndGlyphs">SAP-</text>
<text x="122" y="2759" text-anchor="middle" font-size="52" font-weight="bold" textLength="88.3" lengthAdjust="spacingAndGlyphs">0.6F</text>
<text x="230" y="866.7" font-size="49" stroke="#000" stroke-width="1.1" textLength="584" lengthAdjust="spacingAndGlyphs">f<tspan font-size="31">a</tspan> = 2.45 kN, d<tspan font-size="31">a</tspan> = 0.023 mm</text>
<text x="231" y="932.8" font-size="49" stroke="#000" stroke-width="1.1" textLength="568" lengthAdjust="spacingAndGlyphs">σ<tspan font-size="31">a</tspan> = 5.87 MPa, ε<tspan font-size="31">a</tspan> = 0.00029</text>
<text x="866.6" y="866.7" font-size="49" stroke="#000" stroke-width="1.1" textLength="588" lengthAdjust="spacingAndGlyphs">f<tspan font-size="31">b</tspan> = 2.25 kN, d<tspan font-size="31">b</tspan> = 0.075 mm</text>
<text x="866.6" y="931.6" font-size="49" stroke="#000" stroke-width="1.1" textLength="573" lengthAdjust="spacingAndGlyphs">σ<tspan font-size="31">b</tspan> = 5.33 MPa, ε<tspan font-size="31">b</tspan> = 0.00095</text>
<text x="1491" y="863" font-size="49" stroke="#000" stroke-width="1.1" textLength="593" lengthAdjust="spacingAndGlyphs">σ<tspan font-size="31">cc</tspan> = 5.87 MPa, ε<tspan font-size="31">cc</tspan> = 0.00029</text>
<text x="1491" y="928" font-size="49" stroke="#000" stroke-width="1.1" textLength="674" lengthAdjust="spacingAndGlyphs">σ<tspan font-size="31">pc</tspan> = 3.86 MPa, w<tspan font-size="31">pc</tspan> = 0.325 mm</text>
<text x="230" y="1672.7" font-size="49" stroke="#000" stroke-width="1.1" textLength="584" lengthAdjust="spacingAndGlyphs">f<tspan font-size="31">a</tspan> = 1.84 kN, d<tspan font-size="31">a</tspan> = 0.050 mm</text>
<text x="231" y="1739.7" font-size="49" stroke="#000" stroke-width="1.1" textLength="568" lengthAdjust="spacingAndGlyphs">σ<tspan font-size="31">a</tspan> = 4.29 MPa, ε<tspan font-size="31">a</tspan> = 0.00064</text>
<text x="866.6" y="1704" font-size="49" stroke="#000" stroke-width="1.1" textLength="588" lengthAdjust="spacingAndGlyphs">f<tspan font-size="31">b</tspan> = 1.54 kN, d<tspan font-size="31">b</tspan> = 0.139 mm</text>
<text x="866.6" y="1769" font-size="49" stroke="#000" stroke-width="1.1" textLength="573" lengthAdjust="spacingAndGlyphs">σ<tspan font-size="31">b</tspan> = 3.60 MPa, ε<tspan font-size="31">b</tspan> = 0.00177</text>
<text x="1491" y="1708" font-size="49" stroke="#000" stroke-width="1.1" textLength="593" lengthAdjust="spacingAndGlyphs">σ<tspan font-size="31">cc</tspan> = 4.29 MPa, ε<tspan font-size="31">cc</tspan> = 0.00064</text>
<text x="1491" y="1773" font-size="49" stroke="#000" stroke-width="1.1" textLength="674" lengthAdjust="spacingAndGlyphs">σ<tspan font-size="31">pc</tspan> = 2.31 MPa, w<tspan font-size="31">pc</tspan> = 0.404 mm</text>
<text x="230" y="2550" font-size="49" stroke="#000" stroke-width="1.1" textLength="584" lengthAdjust="spacingAndGlyphs">f<tspan font-size="31">a</tspan> = 2.38 kN, d<tspan font-size="31">a</tspan> = 0.035 mm</text>
<text x="231" y="2619.4" font-size="49" stroke="#000" stroke-width="1.1" textLength="568" lengthAdjust="spacingAndGlyphs">σ<tspan font-size="31">a</tspan> = 5.62 MPa, ε<tspan font-size="31">a</tspan> = 0.00044</text>
<text x="866.6" y="2550" font-size="49" stroke="#000" stroke-width="1.1" textLength="588" lengthAdjust="spacingAndGlyphs">f<tspan font-size="31">b</tspan> = 2.29 kN, d<tspan font-size="31">b</tspan> = 0.056 mm</text>
<text x="866.6" y="2619" font-size="49" stroke="#000" stroke-width="1.1" textLength="573" lengthAdjust="spacingAndGlyphs">σ<tspan font-size="31">b</tspan> = 5.41 MPa, ε<tspan font-size="31">b</tspan> = 0.00071</text>
<text x="1491" y="2550" font-size="49" stroke="#000" stroke-width="1.1" textLength="593" lengthAdjust="spacingAndGlyphs">σ<tspan font-size="31">cc</tspan> = 5.62 MPa, ε<tspan font-size="31">cc</tspan> = 0.00044</text>
<text x="1491" y="2615" font-size="49" stroke="#000" stroke-width="1.1" textLength="674" lengthAdjust="spacingAndGlyphs">σ<tspan font-size="31">pc</tspan> = 5.35 MPa, w<tspan font-size="31">pc</tspan> = 1.169 mm</text>
<text x="230" y="3398" font-size="49" stroke="#000" stroke-width="1.1" textLength="584" lengthAdjust="spacingAndGlyphs">f<tspan font-size="31">a</tspan> = 1.92 kN, d<tspan font-size="31">a</tspan> = 0.038 mm</text>
<text x="231" y="3465" font-size="49" stroke="#000" stroke-width="1.1" textLength="568" lengthAdjust="spacingAndGlyphs">σ<tspan font-size="31">a</tspan> = 4.50 MPa, ε<tspan font-size="31">a</tspan> = 0.00049</text>
<text x="866.6" y="3396" font-size="49" stroke="#000" stroke-width="1.1" textLength="588" lengthAdjust="spacingAndGlyphs">f<tspan font-size="31">b</tspan> = 1.48 kN, d<tspan font-size="31">b</tspan> = 0.674 mm</text>
<text x="866.6" y="3463" font-size="49" stroke="#000" stroke-width="1.1" textLength="573" lengthAdjust="spacingAndGlyphs">σ<tspan font-size="31">b</tspan> = 3.48 MPa, ε<tspan font-size="31">b</tspan> = 0.00859</text>
<text x="1491" y="3391" font-size="49" stroke="#000" stroke-width="1.1" textLength="593" lengthAdjust="spacingAndGlyphs">σ<tspan font-size="31">cc</tspan> = 4.50 MPa, ε<tspan font-size="31">cc</tspan> = 0.00048</text>
<text x="1491" y="3459" font-size="49" stroke="#000" stroke-width="1.1" textLength="674" lengthAdjust="spacingAndGlyphs">σ<tspan font-size="31">pc</tspan> = 3.31 MPa, w<tspan font-size="31">pc</tspan> = 1.235 mm</text>
</svg>
</body></html>
